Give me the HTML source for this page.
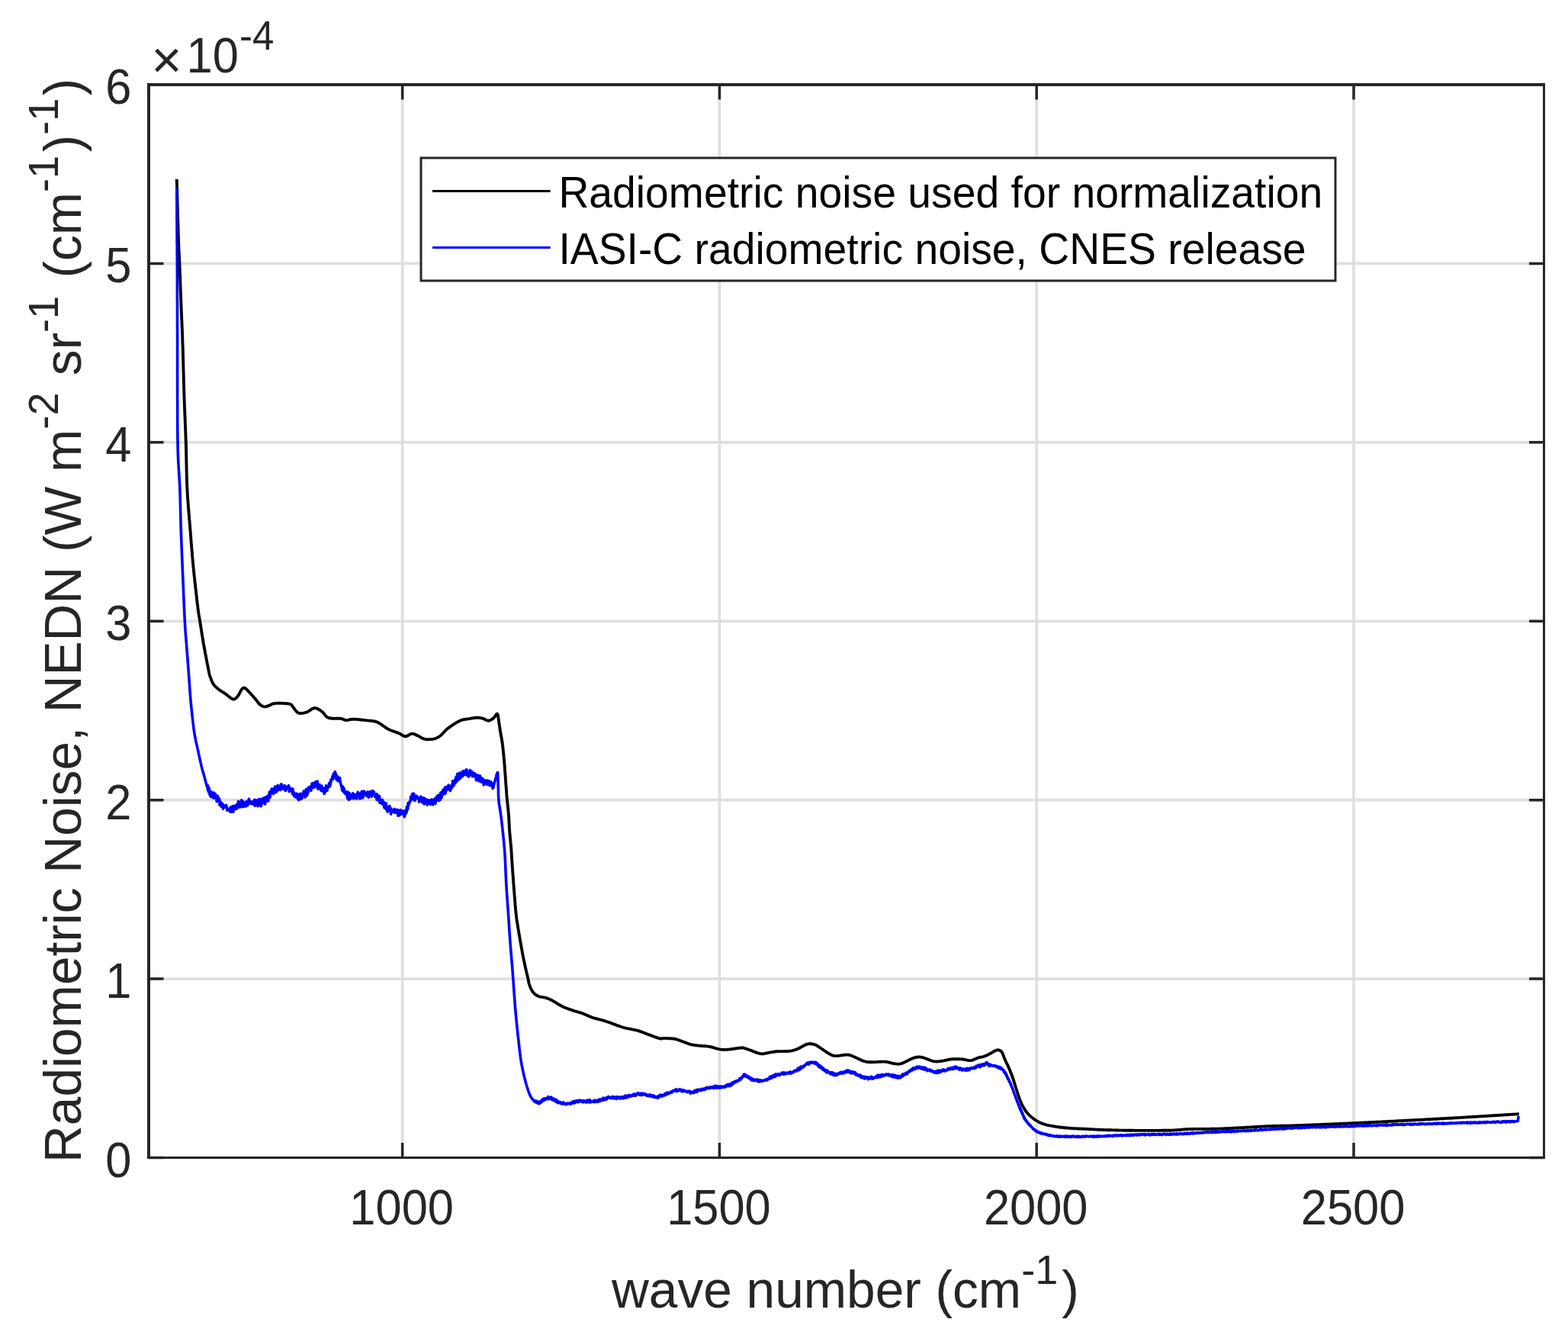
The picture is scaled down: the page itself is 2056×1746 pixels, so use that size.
<!DOCTYPE html><html><head><meta charset="utf-8"><title>Radiometric noise</title><style>html,body{margin:0;padding:0;background:#fff;overflow:hidden;width:2056px;height:1746px;}svg{display:block;}</style></head><body>
<svg width="2056" height="1746" viewBox="0 0 2056 1746" font-family="'Liberation Sans', Arial, Helvetica, sans-serif">
<rect x="0" y="0" width="2056" height="1746" fill="#fff"/>
<path d="M527.64 111.00V1517.50M943.43 111.00V1517.50M1359.23 111.00V1517.50M1775.02 111.00V1517.50M195.00 1283.08H2024.50M195.00 1048.67H2024.50M195.00 814.25H2024.50M195.00 579.83H2024.50M195.00 345.42H2024.50" stroke="#dfdfdf" stroke-width="3.7" fill="none"/>
<path d="M231.8 235.0L231.8 235.8L231.8 236.7L231.9 237.7L231.9 238.8L231.9 240.0L232.0 241.2L232.0 242.5L232.0 243.9L232.1 245.3L232.1 246.9L232.2 248.4L232.2 250.0L232.2 251.6L232.3 253.3L232.3 255.0L232.4 256.7L232.4 258.5L232.5 260.2L232.5 262.0L232.6 263.7L232.6 265.4L232.6 267.2L232.7 268.9L232.7 270.6L232.8 272.3L232.8 273.9L232.9 275.5L232.9 277.1L233.0 278.6L233.0 280.0L233.0 281.6L233.1 283.3L233.1 284.9L233.2 286.6L233.2 288.2L233.3 289.9L233.3 291.5L233.4 293.2L233.4 294.8L233.5 296.4L233.5 298.0L233.6 299.7L233.6 301.2L233.6 302.8L233.7 304.4L233.7 305.9L233.8 307.5L233.8 309.0L233.9 310.4L233.9 311.9L234.0 313.3L234.0 314.7L234.1 316.1L234.1 317.4L234.2 318.7L234.2 320.0L234.3 321.9L234.3 323.6L234.4 325.2L234.5 326.6L234.5 327.9L234.6 329.2L234.7 330.4L234.7 331.6L234.8 332.8L234.9 334.1L235.0 335.5L235.0 337.0L235.1 338.7L235.2 340.5L235.3 342.6L235.4 345.0L235.4 346.1L235.5 347.3L235.5 348.5L235.6 349.8L235.6 351.1L235.7 352.5L235.8 353.9L235.8 355.3L235.9 356.8L235.9 358.2L236.0 359.8L236.0 361.3L236.1 362.9L236.2 364.4L236.2 366.0L236.3 367.7L236.3 369.3L236.4 370.9L236.5 372.6L236.5 374.3L236.6 375.9L236.6 377.6L236.7 379.3L236.8 380.9L236.8 382.6L236.9 384.2L237.0 385.9L237.0 387.5L237.1 389.2L237.1 390.8L237.2 392.4L237.3 393.9L237.3 395.5L237.4 397.0L237.4 398.5L237.5 400.0L237.6 401.6L237.6 403.1L237.7 404.7L237.7 406.2L237.8 407.7L237.9 409.1L237.9 410.6L238.0 412.0L238.1 413.5L238.1 414.9L238.2 416.3L238.2 417.7L238.3 419.1L238.4 420.5L238.4 421.9L238.5 423.4L238.5 424.8L238.6 426.2L238.7 427.6L238.7 429.1L238.8 430.6L238.8 432.0L238.9 433.5L239.0 435.1L239.0 436.6L239.1 438.2L239.1 439.8L239.2 441.4L239.3 443.0L239.3 444.7L239.4 446.4L239.4 448.2L239.5 450.0L239.5 451.3L239.6 452.7L239.6 454.0L239.7 455.4L239.7 456.8L239.8 458.2L239.8 459.7L239.8 461.1L239.9 462.6L239.9 464.1L240.0 465.6L240.0 467.1L240.1 468.6L240.1 470.2L240.1 471.7L240.2 473.3L240.2 474.8L240.3 476.4L240.3 478.0L240.4 479.6L240.4 481.2L240.4 482.8L240.5 484.4L240.5 486.0L240.6 487.6L240.6 489.2L240.7 490.8L240.7 492.4L240.7 494.0L240.8 495.6L240.8 497.2L240.9 498.8L240.9 500.4L241.0 501.9L241.0 503.5L241.0 505.1L241.1 506.6L241.1 508.2L241.2 509.7L241.2 511.2L241.3 512.7L241.3 514.2L241.4 515.7L241.4 517.1L241.5 518.6L241.5 520.0L241.6 521.6L241.6 523.2L241.7 524.8L241.7 526.4L241.8 528.0L241.8 529.5L241.9 531.1L242.0 532.6L242.0 534.2L242.1 535.7L242.1 537.2L242.2 538.7L242.3 540.2L242.3 541.7L242.4 543.2L242.4 544.7L242.5 546.2L242.6 547.7L242.6 549.2L242.7 550.6L242.7 552.1L242.8 553.6L242.9 555.0L242.9 556.5L243.0 557.9L243.0 559.4L243.1 560.9L243.2 562.3L243.2 563.8L243.3 565.2L243.3 566.7L243.4 568.2L243.4 569.6L243.5 571.1L243.5 572.6L243.6 574.0L243.6 575.5L243.7 577.0L243.8 578.5L243.8 580.0L243.8 581.5L243.9 583.0L243.9 584.5L244.0 586.0L244.0 587.6L244.1 589.1L244.1 590.6L244.1 592.1L244.2 593.7L244.2 595.2L244.2 596.7L244.3 598.3L244.3 599.8L244.3 601.3L244.4 602.9L244.4 604.4L244.4 605.9L244.4 607.5L244.5 609.0L244.5 610.5L244.5 612.1L244.6 613.6L244.6 615.1L244.6 616.6L244.7 618.1L244.7 619.6L244.7 621.1L244.8 622.6L244.8 624.1L244.9 625.6L244.9 627.1L245.0 628.5L245.0 630.0L245.0 631.5L245.1 632.9L245.2 634.3L245.2 635.8L245.3 637.2L245.3 638.6L245.4 640.0L245.5 641.6L245.6 643.3L245.7 644.9L245.7 646.4L245.8 648.0L245.9 649.6L246.0 651.2L246.1 652.7L246.2 654.2L246.3 655.8L246.4 657.3L246.6 658.8L246.7 660.3L246.8 661.8L246.9 663.3L247.0 664.8L247.1 666.3L247.2 667.8L247.4 669.2L247.5 670.7L247.6 672.2L247.7 673.7L247.9 675.1L248.0 676.6L248.1 678.1L248.2 679.6L248.3 681.0L248.5 682.5L248.6 684.0L248.7 685.5L248.8 687.0L249.0 688.5L249.1 690.0L249.2 691.5L249.3 693.0L249.4 694.5L249.6 696.0L249.7 697.6L249.8 699.1L249.9 700.6L250.0 702.1L250.1 703.6L250.3 705.1L250.4 706.6L250.5 708.2L250.6 709.7L250.7 711.2L250.9 712.7L251.0 714.2L251.1 715.7L251.2 717.2L251.4 718.8L251.5 720.3L251.6 721.8L251.7 723.3L251.9 724.8L252.0 726.3L252.1 727.8L252.2 729.4L252.4 730.9L252.5 732.4L252.7 733.9L252.8 735.4L252.9 736.9L253.1 738.5L253.2 740.0L253.4 741.5L253.5 743.0L253.6 744.5L253.8 746.1L254.0 747.7L254.1 749.3L254.3 750.9L254.5 752.5L254.6 754.2L254.8 755.8L255.0 757.5L255.2 759.2L255.3 760.8L255.5 762.5L255.7 764.2L255.9 765.9L256.1 767.5L256.3 769.2L256.4 770.8L256.6 772.4L256.8 774.1L257.0 775.6L257.2 777.2L257.3 778.8L257.5 780.3L257.7 781.8L257.9 783.2L258.0 784.7L258.2 786.1L258.3 787.4L258.5 788.7L258.6 790.0L258.8 791.2L258.9 792.4L259.1 793.5L259.2 794.6L259.5 797.1L259.8 799.2L260.0 801.0L260.2 802.5L260.4 803.8L260.6 804.9L260.8 806.0L260.9 807.0L261.1 808.1L261.3 809.2L261.6 810.5L261.8 812.1L262.1 813.9L262.3 815.2L262.5 816.5L262.7 817.8L262.9 819.2L263.2 820.6L263.4 822.1L263.6 823.6L263.9 825.1L264.1 826.7L264.3 828.2L264.6 829.8L264.9 831.4L265.1 833.1L265.4 834.7L265.7 836.3L265.9 837.9L266.2 839.6L266.5 841.2L266.7 842.8L267.0 844.4L267.3 846.0L267.6 847.5L267.8 849.0L268.1 850.5L268.4 852.1L268.7 853.8L269.0 855.4L269.3 857.1L269.7 858.8L270.0 860.4L270.3 862.1L270.6 863.8L270.9 865.4L271.2 867.0L271.5 868.6L271.8 870.1L272.1 871.6L272.4 873.0L272.7 874.4L272.9 875.7L273.2 876.9L273.4 878.0L273.6 879.1L273.8 880.0L274.5 883.6L274.8 884.9L275.0 885.6L275.5 886.9L276.0 888.2L276.5 889.7L277.1 891.2L277.7 892.8L278.5 894.4L279.2 895.9L280.1 897.2L281.1 898.4L282.1 899.6L283.3 900.7L284.5 901.7L285.7 902.7L286.9 903.7L288.1 904.6L289.4 905.6L290.7 906.4L292.0 907.2L293.3 908.0L294.7 908.9L296.1 909.8L297.4 910.8L298.8 912.0L300.3 913.2L301.8 914.4L303.2 915.4L304.6 916.2L305.8 916.6L307.3 916.5L308.6 915.8L309.9 914.7L311.0 913.4L312.1 912.1L313.0 910.9L313.8 909.4L314.5 907.9L315.3 906.4L316.0 905.1L316.7 904.0L318.0 902.5L319.2 901.7L320.7 901.8L321.8 902.4L323.0 903.3L324.2 904.6L325.6 906.0L327.0 907.5L327.9 908.5L329.0 909.6L330.0 910.8L331.1 912.0L332.2 913.2L333.2 914.4L334.2 915.5L335.1 916.6L336.4 918.2L337.5 919.7L338.6 921.1L339.7 922.4L340.8 923.5L342.3 924.6L343.8 925.5L345.4 926.1L347.1 926.4L348.6 926.3L350.2 925.8L351.8 925.2L353.3 924.6L354.5 924.1L356.2 923.1L358.0 922.4L359.2 922.2L360.6 922.0L362.1 921.9L363.9 921.8L366.0 921.8L367.4 921.8L369.0 921.9L370.7 921.9L372.5 922.0L374.3 922.1L376.1 922.2L377.7 922.4L379.1 922.6L380.3 922.9L382.3 923.9L383.2 925.3L384.3 927.0L385.3 928.3L386.5 929.8L387.7 931.4L388.9 932.8L390.0 933.8L391.5 934.7L392.9 935.0L394.6 935.0L396.0 934.9L397.5 934.7L399.1 934.4L400.8 933.9L402.6 933.3L403.9 932.7L405.3 931.8L406.7 930.8L408.1 929.8L409.6 929.0L411.0 928.4L412.4 928.1L413.8 928.2L415.3 928.6L416.7 929.2L418.1 930.0L419.5 930.9L420.9 931.8L422.1 932.7L423.4 933.8L424.6 935.2L425.7 936.6L426.7 938.0L427.8 939.2L429.0 940.1L430.5 940.8L432.1 941.3L433.7 941.5L435.3 941.7L437.0 941.8L438.5 941.9L440.0 941.8L441.5 941.8L443.1 941.7L444.6 941.7L446.1 941.8L447.8 942.2L449.5 942.7L451.2 943.3L452.7 943.8L454.2 944.1L456.3 943.9L458.0 943.4L460.0 943.0L461.6 942.9L463.2 942.8L465.1 942.8L467.2 942.9L468.6 943.0L470.1 943.1L471.7 943.3L473.3 943.5L475.0 943.7L476.8 943.9L478.6 944.1L480.1 944.3L481.6 944.4L483.3 944.6L485.0 944.7L486.6 944.9L488.2 945.1L489.8 945.3L491.2 945.5L492.4 945.8L494.2 946.3L495.5 946.9L496.6 947.5L497.7 948.3L499.2 949.2L500.3 949.9L501.5 950.7L502.7 951.6L504.0 952.5L505.3 953.5L506.7 954.4L508.1 955.3L509.6 956.1L511.0 956.8L512.5 957.4L514.1 958.0L515.8 958.6L517.4 959.2L519.0 959.7L520.6 960.3L522.0 960.8L523.3 961.3L525.3 962.3L526.9 963.3L528.3 964.3L529.8 965.0L531.3 965.3L532.7 965.1L534.2 964.5L535.6 963.7L537.1 962.8L538.5 962.1L539.9 961.8L541.4 961.9L542.9 962.2L544.3 962.7L545.7 963.4L547.3 964.1L548.7 964.8L550.1 965.6L551.6 966.5L553.2 967.4L554.8 968.2L556.5 968.7L558.0 969.0L559.7 969.2L561.4 969.2L563.1 969.2L564.8 969.1L566.5 969.0L568.0 968.7L569.7 968.3L571.3 967.8L572.8 967.2L574.2 966.5L575.7 965.6L577.1 964.7L578.3 963.8L579.4 962.7L580.5 961.5L581.6 960.3L582.8 959.0L583.9 957.8L585.1 956.7L586.3 955.6L587.6 954.6L588.9 953.6L590.2 952.6L591.6 951.7L592.9 950.7L594.3 949.8L595.7 948.9L597.2 948.0L598.7 947.1L600.2 946.2L601.7 945.4L603.2 944.7L604.6 944.1L606.2 943.6L607.7 943.2L609.1 943.0L610.6 942.8L612.2 942.6L613.8 942.4L615.3 942.1L617.0 941.8L618.7 941.5L620.4 941.2L622.1 941.0L623.7 940.8L625.2 940.7L627.0 940.7L628.7 940.9L630.2 941.1L631.7 941.4L633.2 941.8L635.0 942.5L636.7 943.5L638.4 944.4L640.1 944.7L641.5 944.5L642.9 944.0L644.3 943.3L645.7 942.4L646.9 941.5L648.1 940.3L649.2 938.6L650.3 937.1L651.2 935.9L652.0 935.7L652.5 936.3L652.9 937.5L653.2 939.1L653.4 941.0L653.7 943.0L654.0 945.0L654.2 946.3L654.4 947.7L654.6 949.1L654.8 950.6L655.0 952.1L655.3 953.6L655.5 955.3L655.7 956.9L656.0 958.6L656.2 960.0L656.5 961.4L656.7 962.9L657.0 964.3L657.3 965.9L657.6 967.4L657.9 969.0L658.1 970.6L658.4 972.3L658.7 974.0L658.9 975.8L659.1 977.2L659.2 978.6L659.4 980.0L659.6 981.5L659.7 983.0L659.9 984.5L660.0 986.1L660.2 987.7L660.4 989.3L660.5 990.9L660.6 992.4L660.8 994.0L660.9 995.6L661.1 997.2L661.2 998.7L661.3 1000.2L661.5 1001.8L661.6 1003.3L661.7 1004.8L661.8 1006.3L661.9 1007.9L662.0 1009.4L662.1 1010.9L662.2 1012.4L662.4 1014.0L662.5 1015.5L662.6 1017.0L662.7 1018.5L662.8 1020.1L662.9 1021.6L663.0 1023.1L663.1 1024.7L663.2 1026.2L663.3 1027.7L663.4 1029.2L663.6 1030.8L663.7 1032.3L663.8 1033.8L663.9 1035.3L664.0 1036.9L664.1 1038.4L664.2 1039.9L664.3 1041.4L664.5 1043.0L664.6 1044.5L664.7 1046.0L664.9 1047.6L665.0 1049.1L665.2 1050.6L665.4 1052.1L665.5 1053.7L665.7 1055.2L665.9 1056.7L666.0 1058.3L666.2 1059.8L666.3 1061.3L666.5 1062.8L666.6 1064.4L666.8 1065.9L666.9 1067.4L667.0 1068.9L667.1 1070.4L667.2 1071.9L667.3 1073.4L667.4 1074.9L667.5 1076.4L667.5 1077.9L667.6 1079.4L667.7 1080.9L667.7 1082.4L667.8 1084.0L667.9 1085.5L668.0 1087.0L668.1 1088.5L668.2 1090.0L668.3 1091.5L668.4 1093.1L668.6 1094.7L668.7 1096.3L668.9 1097.9L669.0 1099.6L669.2 1101.2L669.4 1102.8L669.5 1104.4L669.7 1105.9L669.8 1107.4L669.9 1108.9L670.1 1110.3L670.2 1111.7L670.3 1113.0L670.4 1114.7L670.5 1116.2L670.6 1117.5L670.7 1118.7L670.7 1119.8L670.8 1121.0L670.9 1122.3L670.9 1123.9L671.1 1125.8L671.2 1128.0L671.3 1129.2L671.4 1130.4L671.5 1131.7L671.6 1133.0L671.6 1134.4L671.8 1135.9L671.9 1137.4L672.0 1138.9L672.1 1140.5L672.2 1142.1L672.3 1143.7L672.4 1145.4L672.6 1147.1L672.7 1148.7L672.8 1150.4L672.9 1152.1L673.1 1153.8L673.2 1155.5L673.3 1157.2L673.4 1158.9L673.6 1160.5L673.7 1162.1L673.8 1163.6L673.9 1165.1L674.0 1166.6L674.2 1168.1L674.3 1169.7L674.4 1171.3L674.5 1172.8L674.6 1174.4L674.8 1176.0L674.9 1177.6L675.0 1179.2L675.1 1180.8L675.3 1182.3L675.4 1183.9L675.5 1185.5L675.6 1187.0L675.8 1188.5L675.9 1190.0L676.0 1191.4L676.2 1192.9L676.3 1194.2L676.4 1195.6L676.6 1196.9L676.7 1198.2L676.9 1200.0L677.1 1201.8L677.3 1203.5L677.5 1205.1L677.8 1206.6L678.0 1208.1L678.2 1209.6L678.4 1211.0L678.7 1212.4L678.9 1213.8L679.1 1215.2L679.3 1216.6L679.6 1218.0L679.8 1219.4L680.1 1220.8L680.3 1222.3L680.5 1223.8L680.8 1225.3L681.1 1226.9L681.3 1228.4L681.6 1230.0L681.9 1231.6L682.1 1233.1L682.4 1234.7L682.7 1236.2L682.9 1237.7L683.2 1239.2L683.5 1240.7L683.7 1242.2L684.0 1243.6L684.3 1245.0L684.5 1246.3L684.8 1248.0L685.1 1249.7L685.4 1251.3L685.7 1252.8L686.0 1254.3L686.3 1255.8L686.6 1257.3L686.9 1258.7L687.2 1260.1L687.5 1261.5L687.8 1262.9L688.1 1264.3L688.5 1266.0L688.8 1267.7L689.2 1269.3L689.6 1270.9L690.0 1272.6L690.3 1274.1L690.7 1275.7L691.0 1277.2L691.4 1278.6L691.7 1280.0L692.1 1281.9L692.5 1283.7L692.8 1285.3L693.2 1287.0L693.5 1288.5L693.9 1290.0L694.4 1291.5L695.0 1293.2L695.7 1294.9L696.4 1296.4L697.2 1297.9L698.0 1299.3L698.9 1300.6L700.1 1301.9L701.3 1303.1L702.7 1304.1L704.2 1305.0L705.8 1305.8L707.1 1306.3L708.6 1306.6L710.1 1306.9L711.7 1307.2L713.2 1307.4L714.7 1307.7L716.1 1308.1L717.8 1308.6L719.2 1309.2L720.6 1309.8L722.2 1310.5L724.1 1311.5L725.2 1312.1L726.5 1312.9L727.8 1313.7L729.2 1314.5L730.6 1315.4L732.1 1316.3L733.6 1317.2L735.1 1318.0L736.5 1318.8L737.9 1319.5L739.4 1320.2L741.0 1320.9L742.6 1321.5L744.1 1322.1L745.7 1322.7L747.2 1323.2L748.7 1323.7L750.2 1324.2L751.6 1324.7L753.3 1325.3L755.0 1325.7L756.6 1326.2L758.1 1326.6L759.7 1327.0L761.4 1327.5L763.1 1328.1L764.5 1328.6L766.0 1329.2L767.5 1329.9L769.0 1330.6L770.5 1331.3L772.1 1331.9L773.6 1332.6L775.2 1333.2L776.8 1333.8L778.3 1334.3L779.8 1334.7L781.3 1335.1L782.8 1335.5L784.4 1335.9L785.9 1336.3L787.4 1336.7L788.9 1337.0L790.3 1337.4L791.7 1337.8L793.3 1338.3L794.7 1338.8L796.1 1339.2L797.4 1339.7L798.7 1340.2L800.1 1340.7L801.5 1341.2L803.1 1341.8L804.4 1342.3L805.8 1342.8L807.2 1343.3L808.6 1343.9L810.1 1344.4L811.6 1344.9L813.2 1345.5L814.7 1346.0L816.4 1346.5L818.0 1347.0L819.4 1347.4L820.9 1347.7L822.5 1348.1L824.1 1348.4L825.7 1348.7L827.3 1349.0L829.0 1349.4L830.6 1349.7L832.1 1350.0L833.6 1350.3L835.1 1350.6L836.4 1351.0L838.2 1351.5L839.9 1352.1L841.4 1352.6L842.8 1353.2L844.3 1353.8L845.7 1354.4L847.3 1355.0L849.0 1355.6L850.4 1356.1L851.9 1356.7L853.4 1357.2L855.0 1357.8L856.7 1358.5L858.3 1359.1L859.8 1359.6L861.3 1360.2L862.7 1360.6L863.9 1361.0L865.0 1361.3L867.2 1361.6L868.1 1361.2L870.0 1360.9L871.2 1360.9L872.6 1361.0L874.2 1361.0L875.9 1361.1L877.7 1361.2L879.4 1361.3L881.1 1361.4L882.6 1361.5L883.9 1361.7L885.7 1362.0L887.0 1362.3L888.2 1362.7L889.5 1363.2L891.4 1363.9L892.6 1364.3L894.0 1364.8L895.4 1365.4L897.0 1366.0L898.6 1366.6L900.3 1367.2L901.9 1367.8L903.5 1368.3L905.0 1368.8L906.4 1369.2L908.3 1369.6L910.0 1369.9L911.7 1370.2L913.3 1370.3L914.9 1370.5L916.5 1370.6L918.2 1370.8L919.8 1371.0L921.5 1371.1L923.0 1371.2L924.7 1371.3L926.3 1371.4L928.1 1371.6L929.9 1371.9L931.3 1372.2L932.8 1372.5L934.3 1372.9L935.9 1373.4L937.5 1373.8L939.1 1374.3L940.6 1374.7L942.1 1375.1L943.6 1375.4L944.9 1375.6L946.6 1375.8L948.1 1375.9L949.5 1376.0L950.9 1375.9L952.3 1375.9L953.8 1375.7L955.6 1375.6L957.0 1375.5L958.6 1375.3L960.3 1375.0L962.1 1374.8L963.9 1374.5L965.7 1374.2L967.4 1374.0L969.0 1373.7L970.5 1373.6L971.7 1373.5L973.7 1373.4L974.8 1373.5L975.9 1373.9L978.1 1374.6L979.2 1375.0L980.6 1375.4L982.0 1376.0L983.7 1376.6L985.3 1377.2L987.1 1377.9L988.8 1378.6L990.5 1379.2L992.2 1379.8L993.7 1380.3L995.1 1380.7L996.3 1381.0L998.6 1381.4L1000.2 1381.4L1001.5 1381.2L1003.0 1380.8L1004.8 1380.5L1006.2 1380.3L1007.6 1380.0L1009.1 1379.7L1010.7 1379.4L1012.4 1379.1L1014.1 1378.8L1015.9 1378.5L1017.7 1378.3L1019.1 1378.2L1020.6 1378.1L1022.2 1378.1L1023.9 1378.1L1025.5 1378.1L1027.2 1378.1L1028.9 1378.1L1030.5 1378.0L1032.0 1378.0L1033.5 1377.9L1034.8 1377.8L1036.6 1377.6L1038.3 1377.3L1039.7 1377.0L1041.1 1376.6L1042.5 1376.2L1043.9 1375.7L1045.5 1375.1L1046.8 1374.5L1048.3 1373.8L1049.7 1373.0L1051.2 1372.1L1052.7 1371.3L1054.2 1370.5L1055.6 1369.7L1057.0 1369.1L1058.3 1368.7L1060.1 1368.3L1061.8 1368.2L1063.5 1368.3L1065.0 1368.5L1066.5 1368.8L1068.0 1369.2L1069.7 1369.8L1071.3 1370.7L1072.8 1371.7L1074.2 1372.6L1075.5 1373.5L1077.0 1374.5L1078.2 1375.4L1080.0 1376.7L1081.1 1377.4L1082.3 1378.2L1083.7 1379.1L1085.2 1380.0L1086.6 1381.0L1088.1 1381.8L1089.5 1382.5L1090.7 1383.1L1092.3 1383.7L1093.7 1384.0L1095.0 1384.1L1096.5 1384.1L1098.2 1384.0L1099.7 1383.9L1101.4 1383.7L1103.2 1383.4L1105.0 1383.1L1106.8 1382.8L1108.5 1382.7L1110.0 1382.6L1111.6 1382.6L1112.9 1382.8L1114.1 1383.0L1115.5 1383.5L1117.5 1384.2L1118.7 1384.7L1120.0 1385.2L1121.4 1385.9L1122.9 1386.6L1124.5 1387.4L1126.1 1388.1L1127.7 1388.9L1129.3 1389.6L1130.8 1390.2L1132.2 1390.8L1133.5 1391.2L1135.3 1391.7L1136.8 1392.0L1138.2 1392.1L1139.5 1392.2L1140.9 1392.2L1142.4 1392.2L1144.2 1392.2L1145.6 1392.2L1147.1 1392.1L1148.7 1392.1L1150.4 1392.0L1152.1 1391.8L1153.8 1391.7L1155.5 1391.7L1157.1 1391.6L1158.8 1391.6L1160.3 1391.7L1162.0 1391.9L1163.6 1392.1L1165.3 1392.5L1166.9 1392.9L1168.5 1393.3L1170.0 1393.6L1171.5 1394.0L1172.9 1394.2L1174.2 1394.4L1176.1 1394.6L1177.7 1394.7L1179.1 1394.7L1180.7 1394.4L1182.7 1393.8L1183.8 1393.4L1185.1 1392.9L1186.4 1392.2L1187.9 1391.5L1189.3 1390.8L1190.8 1390.0L1192.3 1389.2L1193.7 1388.5L1195.1 1387.9L1196.5 1387.3L1197.7 1386.9L1199.4 1386.4L1200.9 1386.0L1202.3 1385.7L1203.7 1385.5L1205.1 1385.5L1206.6 1385.6L1208.4 1385.8L1209.7 1386.1L1211.1 1386.5L1212.5 1387.0L1214.0 1387.5L1215.6 1388.2L1217.2 1388.8L1218.7 1389.4L1220.3 1390.0L1221.8 1390.5L1223.2 1390.9L1224.5 1391.2L1226.4 1391.4L1228.2 1391.5L1229.9 1391.4L1231.5 1391.3L1233.1 1391.1L1234.6 1390.8L1236.2 1390.6L1237.7 1390.4L1239.2 1390.0L1240.6 1389.7L1242.1 1389.3L1243.6 1389.0L1245.2 1388.7L1246.9 1388.5L1248.2 1388.4L1249.7 1388.3L1251.2 1388.3L1252.8 1388.3L1254.4 1388.3L1256.0 1388.3L1257.6 1388.3L1259.1 1388.4L1260.6 1388.4L1261.9 1388.5L1263.7 1388.7L1265.3 1389.0L1266.8 1389.4L1268.2 1389.7L1269.7 1390.0L1271.1 1390.1L1272.6 1390.1L1274.2 1389.8L1275.8 1389.3L1277.4 1388.7L1279.0 1388.0L1280.5 1387.4L1282.0 1386.8L1283.3 1386.3L1285.2 1385.8L1286.8 1385.6L1288.3 1385.3L1290.0 1384.9L1291.5 1384.3L1293.1 1383.7L1294.7 1382.9L1296.4 1382.1L1298.0 1381.3L1299.4 1380.5L1300.8 1379.7L1302.2 1378.8L1303.6 1378.0L1304.9 1377.3L1306.0 1376.8L1307.9 1376.3L1309.4 1376.4L1310.8 1376.8L1312.0 1377.4L1313.0 1378.3L1314.1 1380.0L1314.7 1381.2L1315.3 1382.7L1316.0 1384.3L1316.6 1386.1L1317.3 1387.9L1318.1 1389.7L1318.7 1391.1L1319.4 1392.5L1320.1 1394.0L1320.8 1395.5L1321.6 1397.0L1322.3 1398.6L1323.0 1400.1L1323.7 1401.7L1324.3 1403.1L1324.8 1404.5L1325.4 1405.9L1325.9 1407.3L1326.5 1408.8L1327.0 1410.2L1327.5 1411.6L1328.0 1413.1L1328.5 1414.5L1329.0 1415.9L1329.4 1417.4L1329.9 1418.8L1330.3 1420.3L1330.8 1421.7L1331.2 1423.2L1331.6 1424.6L1332.1 1426.0L1332.5 1427.4L1333.0 1429.0L1333.5 1430.5L1334.0 1432.1L1334.5 1433.6L1335.0 1435.1L1335.5 1436.6L1336.0 1438.0L1336.5 1439.4L1337.1 1441.1L1337.8 1442.8L1338.4 1444.4L1339.0 1445.9L1339.7 1447.5L1340.5 1449.0L1341.3 1450.5L1342.2 1452.1L1343.2 1453.6L1344.1 1455.1L1345.1 1456.5L1346.1 1457.8L1347.1 1459.0L1348.1 1460.2L1349.1 1461.2L1350.2 1462.3L1351.3 1463.3L1352.5 1464.3L1353.7 1465.3L1355.0 1466.3L1356.3 1467.3L1357.7 1468.2L1359.1 1469.1L1360.6 1469.9L1362.0 1470.7L1363.5 1471.4L1364.9 1472.1L1366.5 1472.7L1368.2 1473.3L1370.2 1473.9L1371.5 1474.3L1372.9 1474.6L1374.4 1475.0L1375.9 1475.3L1377.5 1475.6L1379.2 1475.9L1380.9 1476.3L1382.6 1476.5L1384.4 1476.8L1386.2 1477.1L1387.6 1477.3L1389.1 1477.5L1390.7 1477.7L1392.3 1477.8L1393.9 1478.0L1395.6 1478.2L1397.2 1478.3L1398.8 1478.5L1400.5 1478.6L1402.0 1478.8L1403.5 1478.9L1405.0 1479.0L1406.3 1479.1L1408.0 1479.2L1409.5 1479.3L1410.8 1479.4L1412.0 1479.4L1413.2 1479.5L1414.5 1479.5L1416.0 1479.5L1417.8 1479.6L1420.0 1479.7L1421.2 1479.8L1422.3 1479.8L1423.6 1479.9L1424.9 1480.0L1426.2 1480.0L1427.6 1480.1L1429.0 1480.2L1430.5 1480.3L1432.0 1480.3L1433.5 1480.4L1435.1 1480.5L1436.7 1480.6L1438.4 1480.7L1440.1 1480.8L1441.8 1480.8L1443.6 1480.9L1445.4 1481.0L1447.3 1481.0L1449.2 1481.1L1450.5 1481.1L1451.8 1481.2L1453.1 1481.2L1454.5 1481.3L1455.9 1481.3L1457.3 1481.3L1458.8 1481.4L1460.2 1481.4L1461.7 1481.4L1463.2 1481.5L1464.8 1481.5L1466.3 1481.5L1467.8 1481.6L1469.4 1481.6L1471.0 1481.6L1472.6 1481.6L1474.2 1481.7L1475.7 1481.7L1477.3 1481.7L1478.9 1481.8L1480.5 1481.8L1482.1 1481.8L1483.7 1481.8L1485.3 1481.8L1486.8 1481.9L1488.4 1481.9L1489.9 1481.9L1491.5 1481.9L1493.0 1481.9L1494.5 1481.9L1496.1 1481.9L1497.6 1481.9L1499.2 1481.9L1500.8 1481.9L1502.4 1481.9L1504.0 1481.9L1505.7 1481.9L1507.3 1481.9L1508.9 1481.9L1510.6 1481.9L1512.2 1481.9L1513.8 1481.9L1515.4 1481.9L1517.0 1481.9L1518.6 1481.9L1520.2 1481.9L1521.7 1481.9L1523.2 1481.8L1524.8 1481.8L1526.2 1481.8L1527.7 1481.8L1529.1 1481.8L1530.5 1481.7L1531.8 1481.7L1533.1 1481.7L1534.3 1481.7L1535.5 1481.6L1536.7 1481.6L1538.9 1481.5L1540.8 1481.4L1542.6 1481.3L1544.1 1481.2L1545.5 1481.1L1546.8 1481.0L1548.1 1480.9L1549.3 1480.7L1550.6 1480.6L1551.9 1480.5L1553.3 1480.4L1554.9 1480.3L1556.6 1480.2L1558.6 1480.1L1559.8 1480.1L1561.1 1480.0L1562.5 1480.0L1563.9 1480.0L1565.3 1480.0L1566.8 1479.9L1568.3 1479.9L1569.8 1479.9L1571.4 1479.9L1573.0 1479.9L1574.6 1479.9L1576.2 1479.9L1577.8 1479.9L1579.5 1479.9L1581.1 1479.9L1582.7 1479.9L1584.3 1479.9L1585.9 1479.9L1587.5 1479.8L1589.1 1479.8L1590.6 1479.8L1592.2 1479.8L1593.7 1479.7L1595.1 1479.7L1596.7 1479.7L1598.3 1479.6L1599.9 1479.5L1601.4 1479.5L1602.9 1479.4L1604.4 1479.4L1605.9 1479.3L1607.4 1479.2L1608.9 1479.2L1610.3 1479.1L1611.8 1479.0L1613.3 1478.9L1614.7 1478.9L1616.2 1478.8L1617.7 1478.7L1619.3 1478.6L1620.8 1478.5L1622.3 1478.5L1623.9 1478.4L1625.6 1478.3L1627.2 1478.2L1628.6 1478.1L1630.0 1478.1L1631.5 1478.0L1633.0 1477.9L1634.5 1477.8L1636.0 1477.7L1637.5 1477.6L1639.0 1477.6L1640.5 1477.5L1642.1 1477.4L1643.6 1477.3L1645.2 1477.2L1646.8 1477.1L1648.3 1477.0L1649.9 1476.9L1651.4 1476.9L1653.0 1476.8L1654.5 1476.7L1656.1 1476.6L1657.6 1476.5L1659.1 1476.5L1660.7 1476.4L1662.2 1476.3L1663.6 1476.3L1665.1 1476.2L1666.6 1476.1L1668.1 1476.1L1669.5 1476.0L1670.9 1476.0L1672.2 1476.0L1673.5 1475.9L1674.7 1475.9L1676.0 1475.9L1677.2 1475.9L1678.4 1475.8L1679.7 1475.8L1681.0 1475.8L1682.3 1475.8L1683.7 1475.8L1685.2 1475.7L1686.7 1475.7L1688.3 1475.7L1689.9 1475.6L1691.7 1475.6L1693.6 1475.5L1695.6 1475.5L1697.7 1475.4L1700.0 1475.3L1701.1 1475.3L1702.3 1475.2L1703.5 1475.2L1704.7 1475.1L1706.0 1475.1L1707.3 1475.0L1708.6 1475.0L1710.0 1474.9L1711.3 1474.9L1712.7 1474.8L1714.1 1474.8L1715.6 1474.7L1717.0 1474.7L1718.5 1474.6L1720.0 1474.5L1721.5 1474.5L1723.0 1474.4L1724.6 1474.4L1726.1 1474.3L1727.7 1474.2L1729.3 1474.2L1730.9 1474.1L1732.5 1474.0L1734.1 1474.0L1735.7 1473.9L1737.4 1473.8L1739.0 1473.8L1740.7 1473.7L1742.3 1473.6L1744.0 1473.6L1745.6 1473.5L1747.3 1473.4L1748.9 1473.4L1750.6 1473.3L1752.2 1473.2L1753.9 1473.1L1755.5 1473.1L1757.1 1473.0L1758.8 1472.9L1760.4 1472.9L1762.0 1472.8L1763.6 1472.7L1765.2 1472.6L1766.8 1472.6L1768.4 1472.5L1769.9 1472.4L1771.5 1472.4L1773.0 1472.3L1774.5 1472.2L1776.0 1472.2L1777.6 1472.1L1779.1 1472.0L1780.6 1472.0L1782.1 1471.9L1783.6 1471.8L1785.2 1471.7L1786.7 1471.7L1788.2 1471.6L1789.7 1471.5L1791.2 1471.5L1792.7 1471.4L1794.3 1471.3L1795.8 1471.2L1797.3 1471.2L1798.8 1471.1L1800.3 1471.0L1801.9 1470.9L1803.4 1470.9L1804.9 1470.8L1806.4 1470.7L1807.9 1470.6L1809.5 1470.6L1811.0 1470.5L1812.5 1470.4L1814.0 1470.3L1815.5 1470.3L1817.0 1470.2L1818.6 1470.1L1820.1 1470.0L1821.6 1470.0L1823.1 1469.9L1824.6 1469.8L1826.2 1469.7L1827.7 1469.6L1829.2 1469.6L1830.7 1469.5L1832.2 1469.4L1833.7 1469.3L1835.3 1469.3L1836.8 1469.2L1838.3 1469.1L1839.8 1469.0L1841.3 1468.9L1842.9 1468.9L1844.4 1468.8L1845.9 1468.7L1847.4 1468.6L1848.9 1468.5L1850.5 1468.5L1852.0 1468.4L1853.5 1468.3L1855.0 1468.2L1856.5 1468.1L1858.1 1468.1L1859.6 1468.0L1861.1 1467.9L1862.6 1467.8L1864.1 1467.7L1865.7 1467.7L1867.2 1467.6L1868.7 1467.5L1870.2 1467.4L1871.8 1467.3L1873.3 1467.3L1874.8 1467.2L1876.3 1467.1L1877.8 1467.0L1879.4 1466.9L1880.9 1466.8L1882.4 1466.8L1883.9 1466.7L1885.4 1466.6L1887.0 1466.5L1888.5 1466.4L1890.0 1466.3L1891.5 1466.3L1893.0 1466.2L1894.6 1466.1L1896.1 1466.0L1897.6 1465.9L1899.1 1465.8L1900.7 1465.7L1902.2 1465.7L1903.7 1465.6L1905.2 1465.5L1906.7 1465.4L1908.3 1465.3L1909.8 1465.2L1911.3 1465.1L1912.8 1465.1L1914.3 1465.0L1915.9 1464.9L1917.4 1464.8L1918.9 1464.7L1920.4 1464.6L1922.0 1464.5L1923.6 1464.4L1925.2 1464.3L1926.9 1464.2L1928.5 1464.1L1930.2 1464.0L1931.9 1463.9L1933.6 1463.8L1935.3 1463.7L1937.1 1463.6L1938.8 1463.5L1940.6 1463.4L1942.4 1463.3L1944.1 1463.2L1945.9 1463.1L1947.7 1463.0L1949.4 1462.9L1951.2 1462.7L1953.0 1462.6L1954.7 1462.5L1956.5 1462.4L1958.2 1462.3L1959.9 1462.2L1961.6 1462.1L1963.3 1462.0L1965.0 1461.9L1966.6 1461.8L1968.2 1461.7L1969.8 1461.6L1971.4 1461.5L1972.9 1461.4L1974.4 1461.3L1975.9 1461.2L1977.3 1461.1L1978.7 1461.0L1980.1 1460.9L1981.4 1460.9L1982.6 1460.8L1983.9 1460.7L1985.0 1460.6L1986.2 1460.6L1987.3 1460.5L1988.3 1460.4L1989.2 1460.4L1990.2 1460.3L1991.0 1460.2L1991.8 1460.2" stroke="#000" stroke-width="3.9" fill="none" stroke-linejoin="round"/>
<path d="M231.8 246.6L231.8 246.9L231.8 247.1L231.8 247.4L231.8 247.7L231.8 248.0L231.8 248.3L231.8 248.6L231.8 248.9L231.8 249.3L231.8 249.6L231.8 250.0L231.8 250.3L231.8 250.7L231.8 251.1L231.8 251.4L231.8 251.8L231.8 252.2L231.8 252.6L231.8 253.1L231.8 253.5L231.8 253.9L231.8 254.3L231.8 254.8L231.8 255.2L231.8 255.7L231.8 256.2L231.8 256.6L231.8 257.1L231.8 257.6L231.8 258.1L231.8 258.6L231.8 259.1L231.8 259.6L231.8 260.1L231.8 260.6L231.8 261.1L231.9 261.6L231.9 262.2L231.9 262.7L231.9 263.2L231.9 263.8L231.9 264.3L231.9 264.8L231.9 265.4L231.9 266.0L231.9 266.5L231.9 267.1L231.9 267.6L231.9 268.2L231.9 268.8L231.9 269.3L231.9 269.9L231.9 270.5L231.9 271.1L231.9 271.6L231.9 272.2L231.9 272.8L231.9 273.4L231.9 274.0L231.9 274.6L231.9 275.2L231.9 275.7L231.9 276.3L231.9 276.9L231.9 277.5L231.9 278.1L231.9 278.7L231.9 279.3L231.9 279.9L231.9 280.5L231.9 281.0L231.9 281.6L231.9 282.2L231.9 282.8L231.9 283.4L231.9 284.0L231.9 284.5L231.9 285.1L231.9 285.7L231.9 286.3L231.9 286.8L231.9 287.4L231.9 288.0L231.9 288.6L232.0 289.1L232.0 289.7L232.0 290.2L232.0 290.8L232.0 291.3L232.0 291.9L232.0 292.4L232.0 293.0L232.0 293.5L232.0 294.0L232.0 294.6L232.0 295.1L232.0 295.6L232.0 296.1L232.0 296.6L232.0 297.1L232.0 297.6L232.0 298.1L232.0 298.6L232.0 299.1L232.0 299.5L232.0 300.0L232.0 300.5L232.0 301.1L232.0 301.6L232.0 302.1L232.0 302.6L232.0 303.1L232.0 303.6L232.0 304.1L232.0 304.6L232.0 305.0L232.0 305.5L232.0 306.0L232.0 306.4L232.0 306.9L232.0 307.3L232.0 307.7L232.1 308.2L232.1 308.6L232.1 309.0L232.1 309.4L232.1 309.8L232.1 310.2L232.1 310.6L232.1 311.0L232.1 311.4L232.1 311.8L232.1 312.2L232.1 312.6L232.1 313.0L232.1 313.4L232.1 313.8L232.1 314.2L232.1 314.6L232.1 315.0L232.1 315.3L232.1 315.7L232.1 316.1L232.1 316.5L232.1 316.9L232.1 317.3L232.1 317.7L232.1 318.1L232.1 318.5L232.1 318.9L232.1 319.3L232.1 319.7L232.2 320.1L232.2 320.5L232.2 320.9L232.2 321.3L232.2 321.8L232.2 322.2L232.2 322.6L232.2 323.1L232.2 323.5L232.2 324.0L232.2 324.4L232.2 324.9L232.2 325.4L232.2 325.9L232.2 326.4L232.2 326.9L232.2 327.4L232.2 327.9L232.2 328.4L232.2 328.9L232.2 329.5L232.2 330.0L232.2 330.6L232.2 331.1L232.2 331.7L232.2 332.3L232.2 332.9L232.2 333.5L232.2 334.1L232.3 334.8L232.3 335.4L232.3 336.1L232.3 336.7L232.3 337.4L232.3 338.1L232.3 338.8L232.3 339.5L232.3 340.3L232.3 341.0L232.3 341.8L232.3 342.6L232.3 343.4L232.3 344.2L232.3 345.0L232.3 345.4L232.3 345.7L232.3 346.1L232.3 346.4L232.3 346.8L232.3 347.2L232.3 347.6L232.3 347.9L232.3 348.3L232.3 348.7L232.3 349.1L232.3 349.4L232.3 349.8L232.3 350.2L232.3 350.6L232.3 351.0L232.3 351.4L232.3 351.8L232.3 352.2L232.3 352.6L232.3 353.0L232.3 353.4L232.3 353.8L232.3 354.2L232.3 354.6L232.3 355.0L232.3 355.4L232.3 355.8L232.3 356.2L232.3 356.6L232.3 357.1L232.3 357.5L232.3 357.9L232.3 358.3L232.3 358.7L232.4 359.2L232.4 359.6L232.4 360.0L232.4 360.5L232.4 360.9L232.4 361.3L232.4 361.8L232.4 362.2L232.4 362.6L232.4 363.1L232.4 363.5L232.4 364.0L232.4 364.4L232.4 364.9L232.4 365.3L232.4 365.8L232.4 366.2L232.4 366.7L232.4 367.1L232.4 367.6L232.4 368.0L232.4 368.5L232.4 369.0L232.4 369.4L232.4 369.9L232.4 370.4L232.4 370.8L232.4 371.3L232.4 371.8L232.4 372.2L232.4 372.7L232.4 373.2L232.4 373.7L232.4 374.2L232.4 374.6L232.4 375.1L232.4 375.6L232.4 376.1L232.4 376.6L232.4 377.0L232.4 377.5L232.4 378.0L232.4 378.5L232.4 379.0L232.4 379.5L232.4 380.0L232.4 380.5L232.4 381.0L232.4 381.5L232.4 382.0L232.4 382.5L232.4 383.0L232.4 383.5L232.4 384.0L232.4 384.5L232.4 385.0L232.4 385.5L232.4 386.0L232.4 386.5L232.4 387.0L232.4 387.5L232.4 388.1L232.4 388.6L232.4 389.1L232.4 389.6L232.4 390.1L232.4 390.6L232.4 391.1L232.4 391.7L232.4 392.2L232.4 392.7L232.4 393.2L232.4 393.8L232.4 394.3L232.5 394.8L232.5 395.3L232.5 395.9L232.5 396.4L232.5 396.9L232.5 397.4L232.5 398.0L232.5 398.5L232.5 399.0L232.5 399.6L232.5 400.1L232.5 400.6L232.5 401.2L232.5 401.7L232.5 402.2L232.5 402.8L232.5 403.3L232.5 403.9L232.5 404.4L232.5 404.9L232.5 405.5L232.5 406.0L232.5 406.6L232.5 407.1L232.5 407.7L232.5 408.2L232.5 408.7L232.5 409.3L232.5 409.8L232.5 410.4L232.5 410.9L232.5 411.5L232.5 412.0L232.5 412.6L232.5 413.1L232.5 413.7L232.5 414.2L232.5 414.8L232.5 415.3L232.5 415.9L232.5 416.4L232.5 417.0L232.5 417.5L232.5 418.1L232.5 418.6L232.5 419.2L232.5 419.8L232.5 420.3L232.5 420.9L232.5 421.4L232.5 422.0L232.5 422.5L232.5 423.1L232.5 423.6L232.5 424.2L232.5 424.8L232.5 425.3L232.5 425.9L232.5 426.4L232.5 427.0L232.5 427.6L232.5 428.1L232.5 428.7L232.5 429.2L232.5 429.8L232.5 430.4L232.5 430.9L232.5 431.5L232.5 432.0L232.6 432.6L232.6 433.2L232.6 433.7L232.6 434.3L232.6 434.8L232.6 435.4L232.6 436.0L232.6 436.5L232.6 437.1L232.6 437.7L232.6 438.2L232.6 438.8L232.6 439.3L232.6 439.9L232.6 440.5L232.6 441.0L232.6 441.6L232.6 442.1L232.6 442.7L232.6 443.3L232.6 443.8L232.6 444.4L232.6 445.0L232.6 445.5L232.6 446.1L232.6 446.6L232.6 447.2L232.6 447.8L232.6 448.3L232.6 448.9L232.6 449.4L232.6 450.0L232.6 450.5L232.6 450.9L232.6 451.4L232.6 451.8L232.6 452.3L232.6 452.7L232.6 453.2L232.6 453.7L232.6 454.1L232.6 454.6L232.6 455.1L232.6 455.5L232.6 456.0L232.6 456.5L232.6 457.0L232.6 457.4L232.6 457.9L232.6 458.4L232.6 458.9L232.6 459.4L232.6 459.9L232.6 460.3L232.6 460.8L232.6 461.3L232.6 461.8L232.6 462.3L232.6 462.8L232.6 463.3L232.6 463.8L232.6 464.3L232.6 464.8L232.6 465.3L232.6 465.8L232.6 466.3L232.6 466.8L232.6 467.3L232.6 467.8L232.6 468.3L232.6 468.8L232.6 469.3L232.6 469.8L232.6 470.3L232.6 470.9L232.6 471.4L232.6 471.9L232.6 472.4L232.6 472.9L232.6 473.4L232.6 474.0L232.6 474.5L232.6 475.0L232.6 475.5L232.6 476.0L232.6 476.6L232.6 477.1L232.6 477.6L232.6 478.1L232.6 478.7L232.6 479.2L232.6 479.7L232.6 480.3L232.6 480.8L232.6 481.3L232.6 481.9L232.6 482.4L232.6 482.9L232.6 483.5L232.6 484.0L232.6 484.5L232.6 485.1L232.6 485.6L232.6 486.1L232.6 486.7L232.6 487.2L232.6 487.7L232.6 488.3L232.6 488.8L232.6 489.4L232.6 489.9L232.6 490.5L232.6 491.0L232.6 491.5L232.6 492.1L232.6 492.6L232.6 493.2L232.6 493.7L232.6 494.3L232.6 494.8L232.6 495.3L232.6 495.9L232.6 496.4L232.6 497.0L232.6 497.5L232.6 498.1L232.6 498.6L232.6 499.2L232.6 499.7L232.6 500.3L232.6 500.8L232.6 501.4L232.6 501.9L232.6 502.5L232.6 503.0L232.6 503.6L232.6 504.1L232.6 504.7L232.6 505.2L232.6 505.8L232.6 506.3L232.6 506.9L232.6 507.4L232.6 508.0L232.6 508.5L232.6 509.1L232.6 509.6L232.6 510.1L232.6 510.7L232.6 511.2L232.6 511.8L232.6 512.3L232.6 512.9L232.6 513.4L232.6 514.0L232.6 514.5L232.6 515.1L232.6 515.6L232.6 516.2L232.6 516.7L232.6 517.3L232.6 517.8L232.6 518.4L232.6 518.9L232.6 519.4L232.6 520.0L232.6 520.5L232.6 521.1L232.6 521.6L232.6 522.2L232.6 522.7L232.6 523.2L232.6 523.8L232.7 524.3L232.7 524.9L232.7 525.4L232.7 526.0L232.7 526.5L232.7 527.0L232.7 527.6L232.7 528.1L232.7 528.6L232.7 529.2L232.7 529.7L232.7 530.2L232.7 530.8L232.7 531.3L232.7 531.8L232.7 532.4L232.7 532.9L232.7 533.4L232.7 534.0L232.7 534.5L232.7 535.0L232.7 535.5L232.7 536.1L232.7 536.6L232.7 537.1L232.7 537.6L232.7 538.2L232.7 538.7L232.7 539.2L232.7 539.7L232.7 540.2L232.7 540.8L232.7 541.3L232.7 541.8L232.7 542.3L232.7 542.8L232.7 543.3L232.7 543.8L232.7 544.3L232.7 544.9L232.7 545.4L232.7 545.9L232.7 546.4L232.7 546.9L232.7 547.4L232.7 547.9L232.7 548.4L232.7 548.9L232.7 549.4L232.7 549.9L232.7 550.4L232.7 550.9L232.7 551.3L232.7 551.8L232.7 552.3L232.7 552.8L232.7 553.3L232.7 553.8L232.7 554.3L232.7 554.7L232.7 555.2L232.8 555.7L232.8 556.2L232.8 556.7L232.8 557.1L232.8 557.6L232.8 558.1L232.8 558.5L232.8 559.0L232.8 559.5L232.8 559.9L232.8 560.4L232.8 560.9L232.8 561.3L232.8 561.8L232.8 562.2L232.8 562.7L232.8 563.2L232.8 563.6L232.8 564.1L232.8 564.5L232.8 564.9L232.8 565.4L232.8 565.8L232.8 566.3L232.8 566.7L232.8 567.1L232.8 567.6L232.8 568.0L232.8 568.4L232.9 568.9L232.9 569.3L232.9 569.7L232.9 570.1L232.9 570.6L232.9 571.0L232.9 571.4L232.9 571.8L232.9 572.2L232.9 572.6L232.9 573.0L232.9 573.4L232.9 573.9L232.9 574.3L232.9 574.7L232.9 575.0L232.9 575.4L232.9 575.8L232.9 576.2L232.9 576.6L233.0 577.0L233.0 577.4L233.0 577.8L233.0 578.1L233.0 578.5L233.0 578.9L233.0 579.3L233.0 579.6L233.0 580.0L233.0 580.8L233.0 581.6L233.0 582.3L233.1 583.1L233.1 583.8L233.1 584.6L233.1 585.3L233.1 586.1L233.1 586.8L233.2 587.5L233.2 588.2L233.2 588.9L233.2 589.6L233.2 590.2L233.2 590.9L233.3 591.6L233.3 592.2L233.3 592.9L233.3 593.5L233.3 594.1L233.4 594.8L233.4 595.4L233.4 596.0L233.4 596.6L233.5 597.2L233.5 597.8L233.5 598.4L233.5 599.0L233.5 599.6L233.6 600.1L233.6 600.7L233.6 601.2L233.6 601.8L233.7 602.3L233.7 602.9L233.7 603.4L233.7 603.9L233.8 604.5L233.8 605.0L233.8 605.5L233.8 606.0L233.9 606.5L233.9 607.0L233.9 607.5L233.9 608.0L234.0 608.5L234.0 609.0L234.0 609.4L234.0 609.9L234.1 610.4L234.1 610.9L234.1 611.3L234.1 611.8L234.2 612.2L234.2 612.7L234.2 613.1L234.3 613.6L234.3 614.0L234.3 614.5L234.3 614.9L234.4 615.3L234.4 615.8L234.4 616.2L234.4 616.6L234.5 617.1L234.5 617.5L234.5 617.9L234.6 618.3L234.6 618.7L234.6 619.1L234.6 619.6L234.7 620.0L234.7 620.4L234.7 620.8L234.7 621.2L234.8 621.6L234.8 622.0L234.8 622.4L234.9 622.8L234.9 623.2L234.9 623.6L234.9 624.0L235.0 624.4L235.0 624.8L235.0 625.2L235.0 625.6L235.1 626.0L235.1 626.4L235.1 626.8L235.1 627.2L235.2 627.6L235.2 628.0L235.2 628.4L235.2 628.9L235.3 629.3L235.3 629.7L235.3 630.1L235.3 630.5L235.4 630.9L235.4 631.3L235.4 631.7L235.4 632.1L235.5 632.5L235.5 633.0L235.5 633.4L235.5 633.8L235.5 634.2L235.6 634.7L235.6 635.1L235.6 635.5L235.6 636.0L235.6 636.4L235.7 636.8L235.7 637.3L235.7 637.7L235.7 638.2L235.7 638.6L235.8 639.1L235.8 639.5L235.8 640.0L235.8 640.5L235.8 641.1L235.9 641.6L235.9 642.2L235.9 642.7L235.9 643.2L235.9 643.8L236.0 644.3L236.0 644.8L236.0 645.3L236.0 645.9L236.0 646.4L236.0 646.9L236.1 647.4L236.1 648.0L236.1 648.5L236.1 649.0L236.1 649.5L236.1 650.0L236.2 650.5L236.2 651.0L236.2 651.6L236.2 652.1L236.2 652.6L236.2 653.1L236.2 653.6L236.3 654.1L236.3 654.6L236.3 655.1L236.3 655.6L236.3 656.1L236.3 656.6L236.3 657.1L236.3 657.6L236.4 658.1L236.4 658.6L236.4 659.1L236.4 659.6L236.4 660.1L236.4 660.6L236.4 661.1L236.4 661.6L236.5 662.1L236.5 662.6L236.5 663.1L236.5 663.6L236.5 664.1L236.5 664.6L236.5 665.1L236.5 665.5L236.5 666.0L236.6 666.5L236.6 667.0L236.6 667.5L236.6 668.0L236.6 668.5L236.6 669.0L236.6 669.5L236.6 669.9L236.6 670.4L236.7 670.9L236.7 671.4L236.7 671.9L236.7 672.4L236.7 672.9L236.7 673.4L236.7 673.8L236.7 674.3L236.7 674.8L236.8 675.3L236.8 675.8L236.8 676.3L236.8 676.8L236.8 677.2L236.8 677.7L236.8 678.2L236.8 678.7L236.8 679.2L236.9 679.7L236.9 680.2L236.9 680.7L236.9 681.1L236.9 681.6L236.9 682.1L236.9 682.6L237.0 683.1L237.0 683.6L237.0 684.1L237.0 684.6L237.0 685.1L237.0 685.6L237.0 686.0L237.0 686.5L237.1 687.0L237.1 687.5L237.1 688.0L237.1 688.5L237.1 689.0L237.1 689.5L237.2 690.0L237.2 690.5L237.2 691.0L237.2 691.5L237.2 692.0L237.2 692.5L237.2 693.0L237.3 693.5L237.3 694.0L237.3 694.5L237.3 695.0L237.3 695.4L237.3 695.9L237.4 696.4L237.4 696.9L237.4 697.4L237.4 697.9L237.4 698.3L237.4 698.8L237.5 699.3L237.5 699.8L237.5 700.3L237.5 700.7L237.5 701.2L237.6 701.7L237.6 702.2L237.6 702.6L237.6 703.1L237.6 703.6L237.6 704.0L237.7 704.5L237.7 705.0L237.7 705.4L237.7 705.9L237.7 706.4L237.7 706.9L237.8 707.3L237.8 707.8L237.8 708.3L237.8 708.7L237.8 709.2L237.8 709.7L237.9 710.1L237.9 710.6L237.9 711.1L237.9 711.5L237.9 712.0L238.0 712.5L238.0 713.0L238.0 713.4L238.0 713.9L238.0 714.4L238.0 714.8L238.1 715.3L238.1 715.8L238.1 716.3L238.1 716.8L238.1 717.2L238.2 717.7L238.2 718.2L238.2 718.7L238.2 719.2L238.2 719.6L238.3 720.1L238.3 720.6L238.3 721.1L238.3 721.6L238.3 722.1L238.4 722.6L238.4 723.1L238.4 723.6L238.4 724.1L238.4 724.6L238.5 725.1L238.5 725.6L238.5 726.1L238.5 726.6L238.5 727.1L238.6 727.6L238.6 728.1L238.6 728.6L238.6 729.1L238.6 729.7L238.7 730.2L238.7 730.7L238.7 731.2L238.7 731.8L238.8 732.3L238.8 732.8L238.8 733.4L238.8 733.9L238.8 734.5L238.9 735.0L238.9 735.6L238.9 736.1L238.9 736.7L239.0 737.2L239.0 737.8L239.0 738.4L239.0 738.9L239.1 739.5L239.1 740.1L239.1 740.7L239.1 741.2L239.2 741.8L239.2 742.4L239.2 743.0L239.2 743.4L239.2 743.9L239.3 744.3L239.3 744.8L239.3 745.2L239.3 745.7L239.3 746.1L239.3 746.6L239.4 747.1L239.4 747.5L239.4 748.0L239.4 748.5L239.4 748.9L239.5 749.4L239.5 749.9L239.5 750.4L239.5 750.9L239.5 751.4L239.6 751.9L239.6 752.4L239.6 752.9L239.6 753.4L239.7 753.9L239.7 754.4L239.7 754.9L239.7 755.4L239.7 755.9L239.8 756.5L239.8 757.0L239.8 757.5L239.8 758.0L239.8 758.5L239.9 759.1L239.9 759.6L239.9 760.1L239.9 760.7L240.0 761.2L240.0 761.7L240.0 762.3L240.0 762.8L240.0 763.4L240.1 763.9L240.1 764.4L240.1 765.0L240.1 765.5L240.2 766.1L240.2 766.6L240.2 767.2L240.2 767.7L240.3 768.3L240.3 768.8L240.3 769.4L240.3 769.9L240.3 770.5L240.4 771.0L240.4 771.6L240.4 772.2L240.4 772.7L240.5 773.3L240.5 773.8L240.5 774.4L240.5 774.9L240.6 775.5L240.6 776.1L240.6 776.6L240.6 777.2L240.6 777.7L240.7 778.3L240.7 778.8L240.7 779.4L240.7 779.9L240.8 780.5L240.8 781.0L240.8 781.6L240.8 782.2L240.9 782.7L240.9 783.3L240.9 783.8L240.9 784.4L241.0 784.9L241.0 785.4L241.0 786.0L241.0 786.5L241.1 787.1L241.1 787.6L241.1 788.2L241.1 788.7L241.1 789.2L241.2 789.8L241.2 790.3L241.2 790.8L241.2 791.4L241.3 791.9L241.3 792.4L241.3 792.9L241.3 793.5L241.4 794.0L241.4 794.5L241.4 795.0L241.4 795.5L241.4 796.1L241.5 796.6L241.5 797.1L241.5 797.6L241.5 798.1L241.6 798.6L241.6 799.1L241.6 799.6L241.6 800.1L241.7 800.5L241.7 801.0L241.7 801.5L241.7 802.0L241.7 802.5L241.8 802.9L241.8 803.4L241.8 803.9L241.8 804.3L241.8 804.8L241.9 805.3L241.9 805.7L241.9 806.2L241.9 806.6L242.0 807.0L242.0 807.5L242.0 807.9L242.0 808.3L242.0 808.8L242.1 809.2L242.1 809.6L242.1 810.0L242.1 810.4L242.1 810.8L242.2 811.2L242.2 811.6L242.2 812.0L242.2 812.4L242.2 812.8L242.3 813.2L242.3 813.5L242.3 813.9L242.3 814.7L242.4 815.5L242.4 816.2L242.5 817.0L242.5 817.7L242.5 818.4L242.6 819.1L242.6 819.8L242.7 820.4L242.7 821.1L242.7 821.7L242.8 822.3L242.8 822.9L242.9 823.5L242.9 824.0L242.9 824.6L243.0 825.2L243.0 825.7L243.0 826.2L243.1 826.7L243.1 827.2L243.1 827.7L243.2 828.2L243.2 828.7L243.2 829.2L243.3 829.6L243.3 830.1L243.3 830.5L243.4 831.0L243.4 831.4L243.4 831.8L243.5 832.3L243.5 832.7L243.5 833.1L243.6 833.5L243.6 833.9L243.6 834.3L243.7 834.7L243.7 835.1L243.8 835.5L243.8 835.9L243.8 836.3L243.9 836.7L243.9 837.1L243.9 837.5L244.0 837.9L244.0 838.3L244.0 838.8L244.1 839.2L244.1 839.6L244.1 840.0L244.2 840.4L244.2 840.8L244.2 841.3L244.3 841.7L244.3 842.2L244.3 842.6L244.4 843.1L244.4 843.5L244.4 844.0L244.5 844.5L244.5 845.0L244.6 845.5L244.6 846.0L244.6 846.5L244.7 847.0L244.7 847.5L244.7 847.9L244.8 848.4L244.8 848.9L244.9 849.4L244.9 849.9L244.9 850.4L245.0 850.9L245.0 851.4L245.0 851.9L245.1 852.4L245.1 852.9L245.2 853.4L245.2 853.9L245.2 854.4L245.3 854.9L245.3 855.4L245.3 855.8L245.4 856.3L245.4 856.8L245.5 857.3L245.5 857.8L245.5 858.3L245.6 858.8L245.6 859.3L245.7 859.8L245.7 860.3L245.7 860.8L245.8 861.3L245.8 861.9L245.8 862.4L245.9 862.9L245.9 863.4L246.0 863.9L246.0 864.4L246.0 864.9L246.1 865.4L246.1 865.9L246.2 866.4L246.2 866.9L246.2 867.4L246.3 867.9L246.3 868.4L246.4 868.9L246.4 869.4L246.4 869.9L246.5 870.4L246.5 870.9L246.6 871.4L246.6 871.9L246.6 872.4L246.7 872.9L246.7 873.4L246.7 874.0L246.8 874.5L246.8 875.0L246.9 875.5L246.9 876.0L246.9 876.5L247.0 877.0L247.0 877.5L247.0 878.0L247.1 878.5L247.1 879.0L247.2 879.5L247.2 880.0L247.2 880.5L247.3 881.0L247.3 881.5L247.3 882.0L247.4 882.5L247.4 883.0L247.5 883.6L247.5 884.1L247.5 884.6L247.6 885.1L247.6 885.6L247.6 886.1L247.7 886.6L247.7 887.2L247.8 887.7L247.8 888.2L247.8 888.7L247.9 889.2L247.9 889.7L247.9 890.3L248.0 890.8L248.0 891.3L248.0 891.8L248.1 892.3L248.1 892.9L248.1 893.4L248.2 893.9L248.2 894.4L248.3 894.9L248.3 895.5L248.3 896.0L248.4 896.5L248.4 897.0L248.4 897.5L248.5 898.1L248.5 898.6L248.5 899.1L248.6 899.6L248.6 900.1L248.6 900.6L248.7 901.1L248.7 901.7L248.8 902.2L248.8 902.7L248.8 903.2L248.9 903.7L248.9 904.2L248.9 904.7L249.0 905.2L249.0 905.7L249.0 906.2L249.1 906.7L249.1 907.2L249.2 907.7L249.2 908.2L249.2 908.7L249.3 909.2L249.3 909.6L249.3 910.1L249.4 910.6L249.4 911.1L249.5 911.6L249.5 912.1L249.5 912.5L249.6 913.0L249.6 913.5L249.7 913.9L249.7 914.4L249.7 915.0L249.8 915.5L249.8 916.1L249.9 916.6L249.9 917.1L250.0 917.7L250.0 918.2L250.1 918.8L250.1 919.3L250.2 919.9L250.2 920.4L250.3 920.9L250.3 921.5L250.4 922.0L250.4 922.5L250.5 923.0L250.5 923.6L250.6 924.1L250.6 924.6L250.7 925.1L250.7 925.7L250.8 926.2L250.8 926.7L250.9 927.2L250.9 927.7L251.0 928.2L251.0 928.7L251.1 929.2L251.2 929.7L251.2 930.2L251.3 930.7L251.3 931.2L251.4 931.7L251.4 932.2L251.5 932.7L251.5 933.2L251.6 933.7L251.6 934.2L251.7 934.7L251.7 935.2L251.8 935.6L251.8 936.1L251.9 936.6L251.9 937.1L252.0 937.5L252.0 938.0L252.1 938.5L252.1 938.9L252.2 939.4L252.2 939.9L252.3 940.3L252.3 940.8L252.4 941.2L252.4 941.7L252.5 942.1L252.5 942.6L252.6 943.0L252.7 943.6L252.7 944.2L252.8 944.7L252.9 945.3L252.9 945.8L253.0 946.4L253.1 946.9L253.1 947.5L253.2 948.0L253.2 948.5L253.3 949.1L253.4 949.6L253.4 950.1L253.5 950.6L253.5 951.1L253.6 951.6L253.7 952.1L253.7 952.6L253.8 953.1L253.9 953.6L253.9 954.1L254.0 954.6L254.0 955.1L254.1 955.6L254.2 956.0L254.2 956.5L254.3 957.0L254.4 957.5L254.4 958.0L254.5 958.4L254.6 958.9L254.6 959.4L254.7 959.9L254.8 960.3L254.9 960.8L254.9 961.3L255.0 961.8L255.1 962.3L255.2 962.7L255.2 963.2L255.3 963.7L255.4 964.2L255.5 964.7L255.6 965.2L255.7 965.7L255.8 966.2L255.9 966.7L256.0 967.2L256.1 967.7L256.2 968.2L256.3 968.7L256.4 969.2L256.5 969.7L256.6 970.3L256.7 970.8L256.8 971.3L256.9 971.8L257.0 972.3L257.1 972.8L257.2 973.3L257.3 973.8L257.5 974.3L257.6 974.8L257.7 975.3L257.8 975.8L257.9 976.3L258.0 976.7L258.1 977.2L258.3 977.7L258.4 978.2L258.5 978.7L258.6 979.2L258.7 979.7L258.8 980.2L258.9 980.7L259.0 981.1L259.2 981.6L259.3 982.1L259.4 982.6L259.5 983.1L259.6 983.5L259.7 984.0L259.8 984.5L259.9 984.9L260.0 985.4L260.1 985.9L260.2 986.5L260.3 987.0L260.5 987.5L260.6 988.0L260.7 988.6L260.8 989.1L260.9 989.6L261.0 990.1L261.1 990.7L261.2 991.2L261.4 991.7L261.5 992.2L261.6 992.8L261.7 993.3L261.8 993.8L261.9 994.3L262.0 994.8L262.1 995.3L262.2 995.8L262.3 996.3L262.4 996.8L262.5 997.3L262.7 997.8L262.8 998.3L262.9 998.8L263.0 999.2L263.1 999.7L263.2 1000.2L263.3 1000.6L263.4 1001.1L263.5 1001.5L263.6 1002.0L263.7 1002.4L263.8 1002.9L263.9 1003.3L264.0 1003.7L264.1 1004.3L264.3 1004.8L264.4 1005.4L264.6 1005.9L264.7 1006.4L264.8 1006.9L264.9 1007.4L265.1 1007.9L265.2 1008.4L265.3 1008.8L265.5 1009.3L265.6 1009.7L265.7 1010.1L265.8 1010.6L266.0 1011.0L266.1 1011.5L266.2 1011.9L266.4 1012.4L266.5 1012.8L266.6 1013.3L266.8 1013.7L266.9 1014.2L267.0 1014.7L267.2 1015.2L267.3 1015.8L267.5 1016.3L267.6 1016.7L267.7 1017.2L267.9 1017.7L268.0 1018.1L268.1 1018.6L268.3 1019.1L268.4 1019.6L268.5 1020.1L268.6 1020.6L268.8 1021.1L268.9 1021.6L269.0 1022.2L269.2 1022.7L269.3 1023.2L269.5 1023.7L269.6 1024.3L269.7 1024.8L269.9 1025.3L270.0 1025.8L270.2 1026.3L270.3 1026.8L270.4 1027.3L270.6 1027.8L270.7 1028.3L270.9 1028.8L271.0 1029.3L271.2 1029.8L271.3 1030.2L271.5 1030.7L271.6 1031.1L271.8 1031.5L271.9 1031.9L272.1 1029.1L272.3 1033.9L272.6 1036.0L272.8 1032.7L273.1 1031.1L273.3 1034.9L273.6 1036.8L273.8 1038.9L274.1 1033.3L274.3 1033.5L274.6 1039.2L274.9 1039.0L275.1 1042.1L275.4 1041.1L275.7 1038.7L276.0 1038.6L276.3 1044.4L276.6 1039.3L276.9 1038.4L277.2 1037.8L277.5 1041.4L277.8 1041.9L278.2 1041.0L278.6 1042.1L279.0 1043.3L279.4 1044.7L279.8 1046.0L280.2 1044.0L280.7 1039.1L281.1 1045.9L281.6 1040.6L282.0 1044.1L282.5 1041.0L282.9 1045.1L283.4 1043.3L283.8 1046.2L284.2 1050.6L284.6 1046.1L285.0 1048.7L285.4 1043.4L285.8 1046.5L286.1 1049.3L286.5 1047.7L286.8 1049.3L287.0 1049.1L287.3 1046.6L287.5 1051.1L287.8 1048.0L288.0 1055.3L288.2 1049.7L288.5 1053.3L288.7 1052.0L289.0 1054.9L289.3 1051.3L289.6 1055.9L289.9 1053.4L290.2 1057.4L290.6 1056.1L291.0 1055.2L291.5 1053.2L291.9 1057.4L292.2 1056.9L292.7 1060.2L293.1 1055.2L293.5 1057.9L294.0 1058.0L294.5 1057.7L294.9 1057.7L295.4 1057.9L295.9 1056.1L296.5 1055.3L297.0 1057.1L297.5 1059.9L298.0 1062.5L298.6 1061.3L299.1 1061.7L299.6 1061.1L300.2 1061.1L300.7 1059.9L301.2 1061.5L301.7 1064.2L302.2 1058.8L302.7 1058.0L303.2 1064.5L303.7 1060.4L304.1 1062.3L304.6 1062.0L305.1 1056.7L305.5 1064.2L306.0 1064.0L306.4 1059.6L306.9 1060.9L307.3 1059.0L307.8 1056.1L308.2 1057.9L308.6 1058.8L309.0 1060.4L309.5 1059.1L309.9 1057.0L310.3 1060.1L310.7 1054.3L311.2 1058.0L311.6 1058.5L312.1 1054.5L312.5 1050.4L313.0 1052.4L313.4 1055.1L313.9 1055.7L314.4 1058.1L314.9 1051.3L315.3 1053.8L315.8 1055.3L316.2 1053.1L316.7 1048.7L317.2 1055.4L317.7 1057.8L318.1 1055.6L318.6 1050.5L319.1 1051.8L319.6 1053.3L320.1 1057.3L320.6 1054.2L321.1 1052.8L321.6 1056.4L322.1 1052.1L322.6 1056.9L323.2 1050.4L323.7 1050.9L324.2 1053.9L324.8 1055.7L325.3 1053.6L325.9 1052.7L326.4 1047.2L327.0 1049.9L327.5 1050.2L327.9 1050.4L328.4 1053.3L328.9 1050.9L329.4 1053.8L329.9 1052.0L330.4 1050.9L331.0 1052.1L331.5 1052.9L332.0 1054.1L332.6 1050.6L333.1 1051.3L333.7 1048.4L334.2 1056.1L334.8 1055.8L335.3 1051.5L335.9 1050.8L336.4 1048.9L337.0 1052.5L337.5 1052.7L338.0 1056.8L338.5 1052.8L339.1 1050.1L339.6 1047.5L340.1 1055.8L340.5 1052.6L341.0 1047.9L341.5 1052.5L341.9 1047.8L342.3 1056.6L342.7 1054.8L343.1 1053.3L343.7 1051.2L344.3 1046.8L344.8 1050.9L345.4 1047.0L345.8 1052.3L346.3 1045.8L346.7 1047.9L347.2 1053.1L347.6 1053.9L347.9 1046.2L348.3 1045.0L348.7 1050.9L349.0 1050.5L349.4 1045.4L349.7 1045.8L350.1 1045.4L350.4 1043.7L350.7 1044.7L351.1 1049.4L351.4 1047.5L351.8 1050.0L352.1 1044.7L352.3 1044.2L352.6 1041.5L352.8 1043.3L353.1 1039.8L353.3 1038.1L353.5 1044.1L353.8 1045.6L354.0 1043.5L354.3 1044.4L354.6 1041.1L354.9 1038.2L355.2 1039.8L355.5 1038.2L355.9 1035.9L356.3 1034.0L356.8 1034.1L357.1 1037.7L357.5 1037.9L357.9 1036.0L358.3 1040.7L358.7 1037.2L359.2 1038.0L359.6 1039.3L360.1 1033.8L360.6 1031.0L361.1 1037.4L361.6 1033.4L362.1 1038.3L362.6 1035.6L363.1 1037.1L363.6 1036.2L364.1 1029.3L364.6 1035.7L365.1 1031.8L365.6 1031.4L366.1 1032.1L366.6 1035.1L367.1 1035.2L367.6 1035.4L368.1 1028.3L368.5 1031.0L369.0 1027.7L369.4 1032.0L370.0 1033.8L370.5 1030.1L371.1 1032.7L371.7 1032.6L372.3 1034.6L372.8 1029.9L373.4 1029.9L374.0 1030.1L374.5 1036.7L375.1 1035.0L375.6 1031.9L376.1 1033.0L376.6 1032.8L377.1 1033.1L377.6 1032.2L378.0 1032.0L378.5 1029.7L378.9 1031.5L379.3 1037.6L379.7 1034.9L380.2 1033.9L380.6 1033.5L381.0 1034.6L381.3 1035.7L381.6 1033.5L381.9 1036.1L382.1 1036.7L382.4 1034.6L382.6 1034.9L382.9 1034.8L383.2 1035.1L383.5 1040.7L383.9 1034.1L384.3 1038.5L384.6 1037.9L385.0 1038.3L385.3 1040.5L385.7 1043.6L386.1 1041.2L386.5 1041.1L386.9 1040.2L387.3 1041.9L387.7 1045.0L388.2 1042.0L388.6 1040.4L389.0 1040.4L389.5 1041.2L389.9 1040.7L390.4 1047.4L390.9 1045.6L391.3 1044.2L391.8 1048.7L392.3 1043.2L392.7 1046.8L393.1 1046.9L393.5 1040.6L393.9 1040.5L394.3 1041.9L394.7 1046.5L395.1 1047.3L395.6 1040.5L396.0 1046.1L396.4 1042.1L396.9 1041.8L397.3 1041.0L397.7 1041.3L398.2 1037.1L398.6 1038.8L399.1 1037.8L399.5 1041.9L400.0 1044.9L400.4 1044.6L400.9 1038.6L401.3 1034.6L401.7 1037.7L402.2 1035.9L402.6 1042.7L403.0 1039.2L403.3 1035.5L403.7 1039.4L404.1 1038.0L404.4 1032.0L404.8 1034.5L405.2 1034.8L405.6 1035.1L405.9 1034.9L406.3 1033.3L406.7 1034.2L407.1 1031.8L407.5 1030.5L407.8 1036.4L408.2 1032.9L408.6 1032.7L409.0 1027.0L409.3 1030.3L409.7 1032.5L410.0 1026.6L410.4 1032.5L410.7 1028.3L411.1 1030.0L411.4 1028.4L411.7 1029.0L412.0 1031.3L412.3 1027.0L412.6 1031.9L412.9 1025.7L413.5 1025.1L414.0 1029.3L414.5 1024.8L415.0 1026.8L415.4 1030.4L415.8 1031.5L416.2 1024.1L416.6 1030.5L417.0 1034.3L417.4 1033.1L417.8 1029.8L418.2 1029.3L418.7 1030.4L419.1 1028.5L419.5 1031.1L419.9 1031.7L420.3 1032.2L420.7 1036.0L421.2 1032.8L421.6 1030.0L422.0 1036.9L422.5 1031.8L422.9 1033.7L423.3 1034.8L423.8 1034.5L424.2 1033.0L424.6 1035.1L425.1 1040.4L425.5 1034.1L425.8 1035.2L426.2 1038.4L426.5 1037.2L426.8 1037.0L427.2 1037.0L427.5 1029.7L427.8 1031.8L428.2 1034.1L428.5 1034.6L428.9 1036.3L429.2 1033.7L429.5 1031.4L429.9 1031.7L430.2 1030.5L430.5 1031.2L430.8 1031.9L431.2 1028.7L431.5 1027.0L431.8 1026.4L432.1 1031.0L432.4 1031.0L432.6 1029.9L432.9 1029.1L433.1 1028.5L433.4 1025.9L433.6 1027.1L433.8 1022.1L434.0 1024.3L434.3 1023.7L434.5 1023.1L434.7 1022.6L434.9 1022.0L435.1 1021.4L435.4 1020.9L435.6 1019.8L435.8 1017.9L436.0 1021.2L436.2 1017.3L436.5 1018.1L436.7 1019.0L436.9 1021.1L437.1 1015.1L437.4 1014.5L437.6 1018.8L437.9 1013.6L438.1 1017.5L438.5 1014.7L438.9 1015.9L439.3 1011.5L439.7 1018.2L440.1 1015.2L440.5 1014.4L441.0 1021.7L441.4 1019.2L441.8 1022.5L442.3 1019.3L442.7 1017.8L443.1 1019.5L443.5 1023.9L443.9 1020.2L444.3 1022.0L444.7 1022.8L445.0 1019.6L445.2 1022.7L445.4 1021.4L445.6 1019.9L445.7 1023.6L445.9 1024.0L446.0 1024.5L446.2 1025.0L446.3 1025.5L446.5 1026.0L446.6 1026.5L446.7 1027.0L446.9 1027.6L447.0 1028.1L447.1 1028.7L447.3 1029.2L447.4 1029.8L447.5 1030.3L447.7 1030.9L447.8 1031.4L448.0 1031.9L448.2 1032.4L448.3 1033.0L448.5 1033.5L448.7 1036.2L448.9 1036.1L449.1 1035.1L449.4 1032.9L449.6 1031.0L449.9 1037.4L450.2 1036.3L450.5 1032.7L450.8 1037.3L451.1 1034.0L451.5 1038.3L451.8 1039.2L452.2 1040.1L452.5 1040.2L452.9 1040.5L453.3 1037.5L453.6 1039.8L454.0 1039.9L454.4 1040.9L454.8 1042.6L455.2 1043.8L455.7 1046.8L456.1 1038.1L456.5 1044.1L456.9 1042.8L457.4 1048.3L457.8 1046.2L458.3 1039.7L458.7 1045.2L459.2 1042.9L459.6 1047.0L460.1 1041.7L460.6 1044.3L461.1 1044.2L461.6 1044.3L462.1 1043.0L462.6 1039.8L463.2 1045.6L463.7 1046.9L464.3 1044.0L464.8 1041.4L465.4 1044.5L465.9 1045.3L466.5 1043.2L467.1 1043.5L467.6 1047.0L468.1 1040.3L468.7 1041.6L469.2 1038.3L469.7 1041.0L470.2 1040.7L470.7 1040.0L471.2 1040.6L471.7 1046.9L472.1 1041.6L472.5 1041.8L472.9 1046.7L473.6 1041.7L474.3 1037.2L474.9 1042.7L475.4 1039.1L475.9 1045.7L476.3 1038.1L476.8 1039.8L477.2 1037.0L477.6 1041.4L478.1 1038.4L478.6 1040.8L479.2 1040.0L479.8 1039.3L480.2 1043.3L480.7 1043.3L481.2 1040.9L481.7 1038.4L482.2 1037.9L482.7 1041.3L483.3 1045.3L483.8 1039.4L484.4 1038.5L484.9 1038.7L485.5 1037.6L486.1 1037.9L486.6 1039.9L487.2 1044.2L487.7 1040.5L488.2 1039.2L488.7 1036.4L489.2 1041.2L489.7 1040.7L490.1 1037.7L490.6 1038.3L491.1 1041.2L491.5 1044.2L492.0 1043.4L492.4 1042.6L492.8 1041.6L493.2 1043.6L493.6 1043.0L494.0 1048.1L494.3 1040.9L494.7 1043.2L495.1 1047.9L495.5 1044.3L495.8 1049.1L496.2 1045.7L496.6 1046.6L497.0 1045.6L497.3 1043.4L497.7 1044.8L498.0 1052.4L498.3 1049.7L498.7 1050.0L499.0 1051.3L499.3 1050.7L499.6 1052.3L499.9 1049.4L500.3 1049.9L500.6 1053.4L500.9 1050.4L501.2 1048.2L501.6 1051.5L501.9 1051.1L502.3 1054.6L502.7 1051.5L503.0 1051.0L503.4 1053.3L503.8 1058.6L504.1 1054.8L504.5 1055.7L504.8 1055.7L505.2 1056.8L505.5 1058.8L505.9 1060.4L506.2 1052.8L506.6 1061.0L507.0 1057.8L507.4 1057.4L507.7 1063.3L508.1 1058.5L508.5 1064.0L508.9 1062.2L509.3 1057.3L509.7 1061.6L510.1 1062.6L510.5 1060.7L510.9 1056.6L511.3 1060.7L511.7 1061.4L512.1 1059.3L512.6 1067.1L513.0 1062.0L513.5 1061.8L513.9 1062.2L514.4 1061.2L514.9 1061.3L515.4 1063.7L516.0 1064.4L516.5 1062.4L517.0 1063.6L517.6 1060.4L518.1 1065.4L518.6 1062.2L519.2 1064.8L519.7 1061.9L520.2 1063.0L520.8 1065.0L521.3 1061.3L521.8 1069.2L522.3 1064.5L522.7 1064.4L523.2 1062.8L523.6 1068.9L524.0 1068.4L524.4 1065.7L525.1 1061.5L525.8 1064.0L526.4 1067.2L527.0 1064.5L527.5 1063.0L528.0 1063.2L528.4 1064.4L528.9 1066.5L529.3 1064.8L529.7 1066.4L530.2 1070.8L530.5 1070.5L530.7 1062.9L531.0 1066.2L531.3 1065.2L531.5 1064.3L531.7 1067.0L532.0 1063.0L532.2 1062.5L532.5 1061.9L532.7 1062.2L532.9 1065.2L533.2 1063.4L533.4 1057.3L533.6 1059.1L533.9 1057.6L534.2 1061.3L534.4 1059.2L534.7 1060.3L534.9 1057.4L535.1 1052.5L535.3 1056.7L535.4 1056.2L535.6 1055.7L535.8 1055.2L536.0 1054.7L536.2 1054.1L536.4 1053.6L536.6 1053.0L536.7 1052.5L536.9 1051.9L537.1 1051.3L537.3 1050.8L537.5 1050.2L537.8 1049.7L538.0 1050.3L538.2 1049.3L538.4 1049.5L538.6 1044.3L538.9 1047.5L539.1 1045.1L539.4 1044.7L539.7 1047.1L539.9 1046.8L540.2 1043.3L540.5 1040.9L540.9 1040.5L541.3 1043.5L541.7 1047.9L542.1 1044.7L542.6 1040.2L543.0 1042.7L543.5 1046.1L543.9 1049.5L544.4 1048.3L544.9 1046.4L545.4 1046.2L545.9 1043.1L546.4 1044.9L546.9 1045.4L547.5 1044.5L548.0 1046.9L548.6 1045.9L549.1 1048.1L549.7 1051.1L550.2 1049.5L550.8 1048.8L551.2 1047.2L551.7 1044.0L552.1 1047.8L552.6 1049.6L553.1 1045.7L553.6 1051.8L554.1 1047.8L554.6 1049.8L555.1 1048.1L555.6 1045.9L556.1 1054.0L556.7 1046.5L557.2 1052.0L557.7 1048.4L558.2 1050.7L558.8 1048.0L559.3 1049.2L559.8 1052.8L560.3 1055.2L560.8 1048.5L561.3 1050.8L561.8 1053.4L562.3 1049.3L562.7 1052.9L563.2 1049.1L563.7 1052.7L564.1 1052.3L564.5 1054.4L565.1 1052.1L565.7 1048.1L566.2 1052.8L566.7 1048.2L567.2 1052.9L567.7 1054.8L568.2 1052.3L568.7 1049.1L569.2 1053.5L569.6 1050.7L570.1 1046.8L570.5 1048.9L571.0 1053.2L571.4 1048.5L571.8 1049.3L572.3 1047.8L572.8 1044.0L573.2 1046.7L573.7 1048.6L574.0 1048.0L574.4 1046.7L574.7 1042.2L575.1 1049.7L575.4 1048.0L575.7 1048.5L576.1 1048.8L576.4 1043.9L576.7 1043.1L577.1 1045.1L577.4 1048.2L577.7 1039.0L578.1 1042.4L578.4 1040.7L578.8 1043.6L579.1 1045.5L579.4 1040.5L579.8 1037.6L580.1 1040.5L580.4 1039.2L580.8 1035.6L581.1 1041.5L581.4 1037.4L581.8 1040.2L582.1 1034.6L582.5 1040.6L582.8 1033.7L583.2 1039.8L583.6 1032.0L584.1 1039.9L584.5 1035.0L585.0 1031.6L585.4 1034.7L585.8 1035.9L586.3 1032.2L586.7 1033.2L587.2 1034.9L587.6 1033.5L588.0 1029.0L588.5 1032.3L588.9 1034.2L589.3 1033.6L589.7 1035.2L590.1 1030.4L590.5 1036.6L590.9 1033.7L591.3 1032.1L591.7 1033.8L592.0 1033.1L592.3 1030.5L592.7 1028.2L593.0 1032.0L593.3 1030.0L593.6 1023.8L593.9 1025.2L594.2 1028.8L594.4 1027.4L594.7 1027.4L594.9 1027.8L595.2 1026.1L595.4 1029.3L595.7 1023.2L595.9 1023.3L596.2 1024.7L596.4 1025.3L596.7 1025.0L596.9 1026.4L597.2 1020.9L597.4 1024.8L597.7 1022.6L598.1 1018.2L598.4 1020.1L598.7 1024.7L599.1 1021.7L599.4 1018.0L599.8 1014.2L600.1 1016.6L600.5 1016.3L600.8 1018.0L601.2 1022.1L601.5 1019.1L601.9 1017.6L602.3 1014.1L602.7 1013.1L603.1 1015.4L603.5 1014.5L603.9 1020.1L604.4 1014.2L604.9 1013.4L605.3 1017.7L605.8 1014.8L606.3 1011.2L606.8 1017.6L607.4 1013.3L607.9 1010.5L608.4 1014.7L608.9 1015.0L609.4 1012.8L610.0 1015.4L610.5 1015.6L611.0 1011.2L611.5 1008.7L612.0 1008.7L612.5 1013.0L613.0 1016.5L613.6 1016.0L614.1 1017.0L614.6 1018.1L615.1 1013.5L615.6 1016.3L616.2 1009.6L616.7 1015.5L617.2 1014.8L617.7 1013.7L618.1 1012.9L618.6 1011.3L619.1 1014.7L619.5 1017.8L620.0 1013.8L620.4 1016.3L620.8 1013.5L621.2 1016.2L621.5 1013.2L621.9 1017.2L622.2 1015.9L622.6 1017.7L622.9 1015.7L623.3 1014.5L623.7 1017.1L624.2 1021.0L624.7 1022.8L625.2 1018.3L625.6 1021.4L625.9 1021.5L626.3 1020.8L626.7 1016.0L627.2 1021.2L627.6 1018.1L628.1 1023.9L628.5 1023.2L629.0 1023.0L629.5 1017.0L630.0 1023.6L630.4 1024.0L630.9 1019.2L631.4 1025.3L631.9 1023.2L632.4 1022.8L632.9 1021.7L633.3 1021.1L633.8 1022.9L634.2 1028.9L634.7 1025.0L635.1 1025.2L635.5 1023.1L636.1 1023.4L636.6 1023.8L637.2 1023.1L637.8 1027.9L638.3 1025.0L638.9 1028.1L639.4 1023.0L640.0 1028.5L640.5 1026.1L641.0 1028.0L641.4 1026.1L641.9 1024.2L642.3 1029.8L642.8 1025.6L643.1 1026.5L643.5 1024.8L644.1 1028.1L644.5 1027.1L644.9 1029.5L645.2 1030.3L645.5 1028.2L645.7 1026.9L645.9 1032.1L646.2 1033.5L646.5 1032.8L646.7 1027.8L646.8 1032.2L647.0 1031.3L647.2 1030.6L647.3 1029.5L647.5 1029.0L647.7 1028.5L647.8 1027.9L648.0 1027.3L648.1 1026.7L648.3 1026.1L648.5 1025.5L648.6 1024.9L648.8 1024.2L649.0 1023.6L649.1 1023.1L649.3 1022.5L649.4 1022.0L649.6 1021.5L649.8 1020.9L649.9 1020.3L650.1 1019.7L650.3 1019.1L650.4 1018.4L650.6 1017.8L650.8 1017.1L650.9 1016.5L651.1 1015.9L651.3 1015.3L651.4 1014.8L651.6 1014.3L651.7 1013.8L651.9 1013.4L652.0 1013.1L652.1 1012.8L652.2 1012.6L652.3 1012.5L652.4 1012.5L652.5 1012.6L652.6 1012.8L652.6 1013.1L652.7 1013.5L652.7 1014.0L652.8 1014.5L652.8 1015.1L652.8 1015.8L652.8 1016.4L652.8 1017.1L652.8 1017.9L652.8 1018.6L652.9 1019.3L652.9 1020.0L652.9 1020.4L652.9 1020.8L653.0 1021.2L653.0 1021.7L653.0 1022.1L653.0 1022.5L653.0 1023.0L653.0 1023.5L653.0 1023.9L653.1 1024.4L653.1 1024.9L653.1 1025.4L653.1 1025.9L653.1 1026.4L653.1 1026.9L653.1 1027.4L653.1 1028.0L653.2 1028.5L653.2 1029.1L653.2 1029.6L653.2 1030.2L653.2 1030.7L653.2 1031.3L653.3 1031.8L653.3 1032.4L653.3 1033.0L653.3 1033.4L653.3 1033.9L653.3 1034.4L653.4 1034.8L653.4 1035.3L653.4 1035.8L653.4 1036.3L653.4 1036.8L653.4 1037.3L653.4 1037.8L653.4 1038.3L653.4 1038.8L653.5 1039.3L653.5 1039.8L653.5 1040.3L653.5 1040.8L653.5 1041.3L653.5 1041.9L653.5 1042.4L653.6 1042.9L653.6 1043.4L653.6 1044.0L653.6 1044.5L653.6 1045.0L653.7 1045.5L653.7 1046.1L653.7 1046.6L653.8 1047.1L653.8 1047.6L653.8 1048.2L653.9 1048.7L653.9 1049.2L654.0 1049.7L654.0 1050.2L654.1 1050.7L654.1 1051.2L654.2 1051.7L654.2 1052.2L654.3 1052.7L654.3 1053.2L654.4 1053.6L654.5 1054.1L654.5 1054.6L654.6 1055.1L654.7 1055.6L654.8 1056.0L654.9 1056.5L654.9 1057.0L655.0 1057.5L655.1 1058.0L655.2 1058.4L655.3 1058.9L655.3 1059.4L655.4 1059.9L655.5 1060.4L655.6 1060.9L655.7 1061.4L655.8 1061.9L655.9 1062.4L655.9 1063.0L656.0 1063.5L656.1 1064.0L656.2 1064.6L656.3 1065.1L656.4 1065.7L656.4 1066.2L656.5 1066.8L656.6 1067.4L656.7 1067.8L656.7 1068.3L656.8 1068.7L656.8 1069.2L656.9 1069.6L657.0 1070.1L657.0 1070.6L657.1 1071.0L657.1 1071.5L657.2 1072.0L657.2 1072.5L657.3 1073.0L657.4 1073.5L657.4 1073.9L657.5 1074.4L657.6 1074.9L657.6 1075.4L657.7 1075.9L657.7 1076.5L657.8 1077.0L657.9 1077.5L657.9 1078.0L658.0 1078.5L658.0 1079.0L658.1 1079.5L658.2 1080.0L658.2 1080.6L658.3 1081.1L658.3 1081.6L658.4 1082.1L658.5 1082.6L658.5 1083.1L658.6 1083.7L658.6 1084.2L658.7 1084.7L658.7 1085.2L658.8 1085.7L658.9 1086.2L658.9 1086.8L659.0 1087.3L659.0 1087.8L659.1 1088.3L659.1 1088.8L659.2 1089.3L659.2 1089.8L659.3 1090.3L659.4 1090.8L659.4 1091.3L659.5 1091.8L659.5 1092.3L659.6 1092.8L659.6 1093.3L659.7 1093.9L659.7 1094.4L659.8 1094.9L659.8 1095.4L659.9 1096.0L659.9 1096.5L660.0 1097.0L660.0 1097.5L660.1 1098.1L660.2 1098.6L660.2 1099.1L660.3 1099.6L660.3 1100.2L660.4 1100.7L660.4 1101.2L660.5 1101.7L660.5 1102.3L660.6 1102.8L660.6 1103.3L660.7 1103.8L660.7 1104.3L660.8 1104.8L660.8 1105.3L660.9 1105.8L660.9 1106.3L660.9 1106.8L661.0 1107.3L661.0 1107.8L661.1 1108.3L661.1 1108.8L661.2 1109.2L661.2 1109.7L661.2 1110.2L661.3 1110.6L661.3 1111.1L661.4 1111.5L661.4 1111.9L661.4 1112.4L661.5 1112.8L661.5 1113.2L661.6 1113.8L661.6 1114.4L661.6 1115.0L661.7 1115.5L661.7 1116.0L661.8 1116.5L661.8 1116.9L661.8 1117.3L661.9 1117.7L661.9 1118.2L661.9 1118.5L661.9 1118.9L662.0 1119.3L662.0 1119.7L662.0 1120.1L662.0 1120.5L662.0 1120.9L662.1 1121.3L662.1 1121.8L662.1 1122.3L662.1 1122.7L662.2 1123.3L662.2 1123.8L662.2 1124.4L662.3 1125.0L662.3 1125.7L662.3 1126.4L662.4 1127.2L662.4 1128.0L662.4 1128.4L662.4 1128.7L662.5 1129.1L662.5 1129.5L662.5 1129.9L662.5 1130.3L662.5 1130.7L662.6 1131.1L662.6 1131.5L662.6 1132.0L662.6 1132.4L662.6 1132.8L662.6 1133.3L662.7 1133.7L662.7 1134.2L662.7 1134.7L662.7 1135.1L662.8 1135.6L662.8 1136.1L662.8 1136.6L662.8 1137.0L662.8 1137.5L662.9 1138.0L662.9 1138.5L662.9 1139.0L662.9 1139.5L662.9 1140.1L663.0 1140.6L663.0 1141.1L663.0 1141.6L663.0 1142.1L663.1 1142.7L663.1 1143.2L663.1 1143.7L663.1 1144.3L663.1 1144.8L663.2 1145.3L663.2 1145.9L663.2 1146.4L663.2 1147.0L663.3 1147.5L663.3 1148.0L663.3 1148.6L663.3 1149.1L663.4 1149.7L663.4 1150.2L663.4 1150.8L663.4 1151.3L663.5 1151.9L663.5 1152.4L663.5 1153.0L663.5 1153.5L663.6 1154.1L663.6 1154.6L663.6 1155.2L663.7 1155.7L663.7 1156.3L663.7 1156.8L663.7 1157.3L663.8 1157.9L663.8 1158.4L663.8 1158.9L663.9 1159.5L663.9 1160.0L663.9 1160.5L663.9 1161.1L664.0 1161.6L664.0 1162.1L664.0 1162.6L664.1 1163.1L664.1 1163.6L664.1 1164.1L664.1 1164.5L664.2 1165.0L664.2 1165.5L664.2 1166.0L664.3 1166.5L664.3 1167.0L664.3 1167.5L664.4 1168.0L664.4 1168.5L664.4 1169.0L664.5 1169.5L664.5 1170.0L664.5 1170.5L664.6 1171.0L664.6 1171.5L664.6 1172.0L664.7 1172.5L664.7 1173.0L664.7 1173.5L664.8 1174.0L664.8 1174.5L664.8 1175.0L664.9 1175.5L664.9 1176.0L664.9 1176.5L665.0 1177.0L665.0 1177.5L665.1 1178.0L665.1 1178.5L665.1 1179.0L665.2 1179.5L665.2 1180.0L665.2 1180.5L665.3 1181.0L665.3 1181.5L665.3 1182.0L665.4 1182.6L665.4 1183.1L665.5 1183.6L665.5 1184.1L665.5 1184.6L665.6 1185.1L665.6 1185.6L665.6 1186.1L665.7 1186.6L665.7 1187.1L665.8 1187.6L665.8 1188.1L665.8 1188.6L665.9 1189.1L665.9 1189.6L665.9 1190.1L666.0 1190.6L666.0 1191.2L666.0 1191.7L666.1 1192.2L666.1 1192.7L666.2 1193.2L666.2 1193.7L666.2 1194.2L666.3 1194.7L666.3 1195.2L666.3 1195.7L666.4 1196.2L666.4 1196.7L666.4 1197.2L666.5 1197.7L666.5 1198.2L666.5 1198.7L666.6 1199.2L666.6 1199.7L666.6 1200.2L666.7 1200.7L666.7 1201.2L666.7 1201.7L666.8 1202.2L666.8 1202.7L666.8 1203.2L666.9 1203.7L666.9 1204.2L666.9 1204.7L667.0 1205.2L667.0 1205.7L667.0 1206.2L667.1 1206.7L667.1 1207.2L667.1 1207.7L667.2 1208.2L667.2 1208.7L667.2 1209.2L667.3 1209.7L667.3 1210.2L667.3 1210.7L667.3 1211.2L667.4 1211.7L667.4 1212.2L667.4 1212.7L667.5 1213.2L667.5 1213.7L667.5 1214.2L667.6 1214.7L667.6 1215.2L667.6 1215.7L667.7 1216.2L667.7 1216.8L667.7 1217.3L667.8 1217.8L667.8 1218.3L667.8 1218.8L667.9 1219.3L667.9 1219.8L667.9 1220.3L668.0 1220.8L668.0 1221.3L668.0 1221.8L668.1 1222.3L668.1 1222.8L668.1 1223.3L668.2 1223.8L668.2 1224.3L668.2 1224.8L668.3 1225.3L668.3 1225.8L668.3 1226.3L668.4 1226.8L668.4 1227.3L668.4 1227.8L668.5 1228.3L668.5 1228.8L668.5 1229.3L668.6 1229.8L668.6 1230.3L668.6 1230.8L668.7 1231.3L668.7 1231.8L668.8 1232.3L668.8 1232.8L668.8 1233.3L668.9 1233.8L668.9 1234.3L668.9 1234.8L669.0 1235.3L669.0 1235.8L669.1 1236.3L669.1 1236.9L669.1 1237.4L669.2 1237.9L669.2 1238.5L669.3 1239.0L669.3 1239.5L669.3 1240.1L669.4 1240.6L669.4 1241.2L669.5 1241.7L669.5 1242.3L669.6 1242.8L669.6 1243.4L669.7 1243.9L669.7 1244.5L669.8 1245.1L669.8 1245.6L669.8 1246.2L669.9 1246.8L669.9 1247.3L670.0 1247.9L670.0 1248.4L670.1 1249.0L670.1 1249.6L670.2 1250.1L670.2 1250.7L670.3 1251.2L670.3 1251.8L670.4 1252.4L670.4 1252.9L670.5 1253.5L670.5 1254.0L670.6 1254.6L670.6 1255.1L670.6 1255.6L670.7 1256.2L670.7 1256.7L670.8 1257.2L670.8 1257.8L670.9 1258.3L670.9 1258.8L671.0 1259.3L671.0 1259.8L671.0 1260.3L671.1 1260.8L671.1 1261.3L671.2 1261.8L671.2 1262.3L671.3 1262.8L671.3 1263.2L671.3 1263.7L671.4 1264.2L671.4 1264.6L671.5 1265.1L671.5 1265.5L671.5 1265.9L671.6 1266.3L671.6 1266.8L671.6 1267.2L671.7 1267.6L671.7 1267.9L671.7 1268.3L671.8 1268.7L671.8 1269.1L671.8 1269.4L671.8 1269.7L671.9 1270.1L671.9 1270.4L672.0 1271.5L672.1 1272.3L672.1 1273.0L672.2 1273.5L672.2 1273.9L672.2 1274.2L672.2 1274.3L672.2 1274.5L672.2 1274.5L672.2 1274.6L672.2 1274.8L672.2 1274.9L672.3 1275.2L672.3 1275.6L672.3 1276.1L672.4 1276.7L672.4 1277.6L672.5 1278.7L672.6 1280.0L672.6 1280.3L672.6 1280.6L672.7 1281.0L672.7 1281.3L672.7 1281.6L672.7 1282.0L672.8 1282.4L672.8 1282.7L672.8 1283.1L672.9 1283.5L672.9 1283.9L672.9 1284.3L672.9 1284.7L673.0 1285.2L673.0 1285.6L673.0 1286.0L673.1 1286.5L673.1 1286.9L673.1 1287.4L673.2 1287.9L673.2 1288.3L673.2 1288.8L673.3 1289.3L673.3 1289.8L673.3 1290.3L673.4 1290.8L673.4 1291.3L673.4 1291.8L673.5 1292.3L673.5 1292.8L673.6 1293.4L673.6 1293.9L673.6 1294.4L673.7 1295.0L673.7 1295.5L673.7 1296.0L673.8 1296.6L673.8 1297.1L673.9 1297.7L673.9 1298.3L673.9 1298.8L674.0 1299.4L674.0 1299.9L674.1 1300.5L674.1 1301.1L674.1 1301.6L674.2 1302.2L674.2 1302.8L674.3 1303.3L674.3 1303.9L674.4 1304.5L674.4 1305.1L674.4 1305.6L674.5 1306.2L674.5 1306.8L674.6 1307.4L674.6 1307.9L674.6 1308.5L674.7 1309.1L674.7 1309.7L674.8 1310.2L674.8 1310.8L674.9 1311.4L674.9 1311.9L674.9 1312.5L675.0 1313.1L675.0 1313.6L675.1 1314.2L675.1 1314.7L675.2 1315.3L675.2 1315.8L675.2 1316.4L675.3 1316.9L675.3 1317.4L675.4 1318.0L675.4 1318.5L675.4 1319.0L675.5 1319.5L675.5 1320.1L675.6 1320.6L675.6 1321.1L675.6 1321.6L675.7 1322.1L675.7 1322.6L675.8 1323.0L675.8 1323.5L675.8 1324.0L675.9 1324.4L675.9 1324.9L676.0 1325.4L676.0 1325.8L676.1 1326.4L676.1 1327.0L676.2 1327.5L676.2 1328.1L676.3 1328.7L676.3 1329.2L676.4 1329.8L676.4 1330.3L676.5 1330.9L676.5 1331.4L676.6 1332.0L676.6 1332.5L676.7 1333.1L676.7 1333.6L676.8 1334.1L676.8 1334.7L676.9 1335.2L676.9 1335.7L677.0 1336.3L677.0 1336.8L677.1 1337.3L677.1 1337.8L677.2 1338.3L677.2 1338.8L677.3 1339.3L677.3 1339.9L677.4 1340.4L677.4 1340.9L677.5 1341.4L677.5 1341.9L677.6 1342.4L677.6 1342.8L677.7 1343.3L677.7 1343.8L677.8 1344.3L677.8 1344.8L677.9 1345.3L677.9 1345.8L678.0 1346.3L678.0 1346.7L678.1 1347.2L678.1 1347.7L678.2 1348.2L678.2 1348.6L678.3 1349.1L678.3 1349.6L678.4 1350.1L678.4 1350.5L678.5 1351.0L678.5 1351.5L678.6 1351.9L678.6 1352.4L678.7 1352.9L678.7 1353.3L678.8 1353.8L678.8 1354.2L678.9 1354.7L678.9 1355.2L679.0 1355.6L679.0 1356.1L679.1 1356.5L679.1 1357.0L679.2 1357.5L679.2 1357.9L679.3 1358.4L679.3 1358.8L679.4 1359.3L679.4 1359.7L679.5 1360.2L679.6 1360.8L679.6 1361.3L679.7 1361.8L679.7 1362.4L679.8 1362.9L679.9 1363.5L679.9 1364.0L680.0 1364.6L680.0 1365.1L680.1 1365.6L680.1 1366.2L680.2 1366.7L680.3 1367.2L680.3 1367.8L680.4 1368.3L680.4 1368.8L680.5 1369.3L680.5 1369.9L680.6 1370.4L680.7 1370.9L680.7 1371.4L680.8 1371.9L680.8 1372.4L680.9 1372.9L680.9 1373.5L681.0 1374.0L681.0 1374.5L681.1 1375.0L681.2 1375.5L681.2 1376.0L681.3 1376.5L681.3 1377.0L681.4 1377.5L681.4 1378.0L681.5 1378.4L681.6 1378.9L681.6 1379.4L681.7 1379.9L681.7 1380.4L681.8 1380.9L681.9 1381.4L681.9 1381.8L682.0 1382.3L682.0 1382.8L682.1 1383.3L682.2 1383.7L682.2 1384.2L682.3 1384.7L682.4 1385.1L682.4 1385.6L682.5 1386.1L682.6 1386.5L682.6 1387.0L682.7 1387.4L682.8 1387.9L682.8 1388.3L682.9 1388.8L683.0 1389.4L683.1 1389.9L683.2 1390.5L683.3 1391.0L683.3 1391.6L683.4 1392.1L683.5 1392.6L683.6 1393.2L683.7 1393.7L683.8 1394.2L683.9 1394.7L684.0 1395.3L684.1 1395.8L684.2 1396.3L684.3 1396.8L684.4 1397.3L684.5 1397.8L684.6 1398.3L684.7 1398.8L684.8 1399.3L684.9 1399.8L685.0 1400.3L685.1 1400.8L685.2 1401.3L685.3 1401.8L685.4 1402.3L685.5 1402.8L685.6 1403.3L685.7 1403.7L685.8 1404.2L685.9 1404.7L686.0 1405.2L686.1 1405.6L686.2 1406.1L686.3 1406.6L686.4 1407.1L686.5 1407.5L686.6 1408.0L686.7 1408.5L686.8 1408.9L686.9 1409.4L687.1 1409.9L687.2 1410.3L687.3 1410.8L687.4 1411.2L687.5 1411.7L687.6 1412.2L687.8 1412.8L687.9 1413.3L688.0 1413.8L688.2 1414.4L688.3 1414.9L688.4 1415.4L688.6 1416.0L688.7 1416.5L688.9 1417.1L689.0 1417.6L689.2 1418.1L689.3 1418.7L689.5 1419.2L689.6 1419.7L689.8 1420.2L689.9 1420.8L690.1 1421.3L690.2 1421.8L690.4 1422.3L690.5 1422.8L690.6 1423.3L690.8 1423.8L690.9 1424.3L691.1 1424.8L691.2 1425.3L691.4 1425.8L691.5 1426.2L691.7 1426.7L691.8 1427.1L692.0 1427.6L692.1 1428.0L692.3 1428.4L692.4 1428.9L692.5 1429.3L692.7 1429.7L692.8 1430.1L692.9 1430.5L693.1 1430.8L693.2 1431.2L693.5 1431.9L693.7 1432.6L693.9 1433.2L694.2 1433.8L694.4 1434.3L694.6 1434.8L694.8 1435.3L695.1 1435.8L695.3 1436.3L695.5 1436.7L695.7 1437.1L695.9 1437.5L696.2 1437.9L696.4 1438.2L696.6 1438.6L696.8 1438.9L697.1 1439.3L697.3 1439.6L697.5 1440.0L697.8 1440.3L698.2 1440.8L698.6 1441.2L699.0 1441.7L699.4 1442.1L699.8 1442.5L700.2 1443.2L700.6 1442.9L701.1 1443.7L701.5 1444.6L701.9 1443.6L702.3 1443.0L702.7 1444.4L703.1 1444.9L703.5 1443.3L704.1 1444.5L704.6 1445.8L705.1 1445.3L705.6 1445.5L706.0 1444.3L706.5 1446.2L707.0 1446.8L707.5 1444.9L708.1 1444.2L708.5 1443.7L708.9 1445.3L709.3 1444.3L709.7 1443.2L710.1 1444.6L710.5 1443.9L711.0 1443.4L711.4 1440.9L711.8 1442.0L712.3 1442.3L712.8 1440.3L713.3 1442.0L713.8 1442.2L714.2 1441.6L714.7 1439.9L715.1 1439.7L715.6 1441.0L716.1 1440.9L716.6 1440.9L717.1 1440.7L717.6 1439.4L718.1 1439.0L718.6 1437.7L719.1 1439.9L719.7 1440.7L720.2 1438.7L720.7 1438.7L721.3 1439.7L721.8 1439.5L722.2 1438.1L722.7 1438.8L723.1 1438.6L723.6 1441.4L724.0 1439.3L724.5 1440.9L724.9 1442.0L725.4 1442.3L725.9 1442.2L726.3 1442.7L726.8 1440.4L727.3 1441.5L727.7 1441.4L728.2 1442.1L728.7 1444.2L729.1 1441.4L729.6 1443.6L730.1 1442.3L730.5 1444.8L731.0 1445.0L731.5 1443.5L732.0 1445.8L732.5 1444.4L733.0 1445.7L733.5 1445.0L734.0 1444.4L734.5 1444.7L735.0 1445.1L735.5 1446.0L736.0 1445.7L736.5 1447.3L737.0 1445.7L737.5 1445.6L738.0 1445.5L738.4 1445.5L738.9 1445.0L739.3 1445.5L739.8 1447.3L740.2 1446.7L740.8 1446.5L741.3 1447.1L741.8 1447.8L742.3 1447.5L742.7 1447.6L743.2 1446.4L743.6 1446.7L744.1 1446.2L744.6 1446.8L745.1 1446.1L745.7 1446.4L746.3 1446.5L747.0 1446.4L747.4 1446.3L747.8 1446.0L748.2 1447.6L748.6 1446.0L749.0 1445.3L749.4 1446.2L749.9 1445.0L750.3 1444.9L750.8 1445.8L751.2 1444.1L751.7 1443.8L752.2 1445.6L752.7 1446.1L753.2 1443.5L753.7 1444.1L754.2 1445.3L754.8 1443.0L755.3 1443.7L755.9 1443.3L756.5 1444.1L757.1 1442.5L757.7 1444.9L758.3 1443.8L758.9 1444.1L759.6 1443.5L760.0 1442.1L760.4 1443.6L760.9 1442.5L761.3 1443.7L761.8 1442.9L762.2 1443.3L762.7 1443.4L763.2 1444.3L763.7 1444.3L764.1 1442.7L764.6 1443.6L765.1 1444.9L765.7 1444.0L766.2 1442.9L766.7 1443.5L767.2 1443.3L767.7 1444.4L768.3 1443.6L768.8 1443.9L769.3 1445.2L769.9 1442.3L770.4 1442.7L771.0 1442.0L771.5 1442.1L772.0 1444.4L772.6 1443.8L773.1 1445.0L773.6 1441.9L774.2 1442.8L774.7 1444.8L775.2 1444.5L775.8 1444.3L776.3 1444.3L776.8 1443.5L777.3 1443.4L777.8 1443.4L778.3 1444.1L778.8 1443.2L779.3 1443.6L779.7 1444.6L780.2 1442.2L780.7 1442.5L781.3 1443.6L781.8 1442.7L782.3 1442.7L782.9 1444.4L783.4 1443.0L783.9 1442.2L784.4 1443.4L784.9 1443.9L785.4 1441.2L785.9 1441.5L786.4 1442.1L786.9 1441.2L787.4 1443.3L787.9 1442.0L788.4 1441.0L788.9 1441.7L789.4 1440.4L789.9 1440.4L790.4 1440.9L790.8 1442.3L791.3 1439.0L791.8 1440.8L792.3 1441.5L792.8 1440.9L793.2 1441.7L793.7 1440.4L794.2 1440.0L794.6 1439.6L795.1 1438.9L795.6 1441.0L796.0 1438.4L796.5 1439.2L796.9 1438.8L797.4 1438.5L798.0 1437.5L798.5 1438.7L799.0 1439.1L799.6 1439.1L800.1 1439.7L800.7 1438.7L801.2 1438.3L801.7 1439.1L802.2 1439.4L802.8 1438.0L803.3 1437.4L803.8 1437.8L804.3 1439.7L804.8 1439.7L805.3 1438.0L805.8 1438.9L806.3 1439.5L806.8 1440.0L807.3 1438.2L807.8 1438.5L808.3 1440.0L808.8 1440.4L809.3 1440.1L809.8 1437.7L810.3 1439.1L810.8 1438.4L811.3 1438.6L811.8 1438.0L812.3 1438.2L812.8 1438.5L813.4 1440.1L813.9 1439.1L814.4 1438.8L814.9 1438.4L815.5 1437.6L816.0 1438.1L816.5 1439.3L817.0 1438.9L817.5 1439.7L818.1 1438.3L818.6 1438.0L819.1 1436.5L819.6 1438.2L820.1 1436.2L820.6 1439.1L821.1 1437.1L821.6 1437.6L822.1 1436.3L822.6 1437.0L823.1 1436.5L823.6 1438.3L824.1 1437.5L824.6 1436.1L825.1 1435.4L825.6 1436.9L826.1 1436.5L826.6 1435.8L827.2 1437.2L827.7 1436.4L828.2 1436.6L828.7 1435.8L829.3 1435.7L829.8 1435.6L830.3 1434.5L830.8 1436.3L831.3 1436.0L831.9 1433.9L832.4 1435.4L832.9 1436.2L833.4 1435.3L833.9 1436.1L834.4 1434.6L834.9 1434.7L835.4 1433.4L835.9 1433.6L836.3 1432.7L836.8 1433.4L837.3 1434.4L837.8 1434.6L838.2 1435.1L838.7 1434.1L839.3 1433.1L839.8 1434.3L840.4 1433.8L840.9 1435.6L841.4 1435.6L841.9 1434.9L842.4 1433.0L842.9 1433.6L843.4 1434.3L843.9 1433.6L844.4 1434.8L844.9 1435.0L845.4 1435.3L845.9 1434.8L846.4 1433.9L846.9 1434.0L847.4 1434.8L847.9 1436.2L848.5 1436.5L849.0 1436.1L849.5 1435.6L850.0 1436.0L850.4 1436.3L850.9 1436.8L851.4 1436.6L851.9 1434.6L852.4 1437.0L852.9 1436.6L853.4 1436.1L853.9 1437.1L854.4 1437.1L854.9 1436.9L855.4 1435.6L855.9 1437.4L856.4 1437.9L856.9 1437.5L857.4 1436.2L857.9 1438.2L858.4 1438.5L858.9 1438.1L859.4 1438.4L859.9 1437.7L860.4 1437.4L860.9 1438.4L861.4 1437.6L861.9 1438.0L862.4 1439.4L862.9 1438.3L863.4 1437.7L863.9 1436.0L864.4 1437.4L864.9 1437.8L865.4 1436.4L865.9 1436.6L866.4 1435.0L866.9 1437.0L867.4 1435.8L867.9 1436.7L868.4 1437.1L868.9 1435.6L869.4 1436.4L869.9 1435.6L870.4 1435.0L870.9 1434.7L871.4 1434.0L871.9 1435.8L872.4 1435.2L872.9 1433.3L873.4 1434.8L873.8 1433.2L874.3 1432.3L874.8 1434.5L875.3 1432.1L875.7 1434.1L876.2 1433.0L876.7 1433.4L877.2 1432.8L877.6 1433.2L878.1 1432.3L878.6 1432.2L879.0 1431.7L879.5 1432.3L880.0 1430.8L880.5 1431.9L880.9 1432.1L881.4 1430.6L881.9 1430.9L882.3 1429.9L882.8 1429.9L883.3 1430.3L883.8 1429.6L884.3 1429.0L884.8 1429.7L885.3 1429.8L885.8 1429.8L886.3 1430.1L886.8 1427.8L887.3 1430.6L887.8 1429.1L888.3 1428.5L888.8 1428.8L889.3 1429.5L889.8 1429.8L890.3 1428.7L890.8 1429.2L891.3 1427.6L891.9 1429.2L892.4 1428.9L892.9 1428.7L893.5 1429.9L894.0 1430.8L894.4 1430.1L894.9 1428.6L895.4 1430.7L895.9 1429.2L896.4 1429.5L896.9 1429.2L897.4 1430.2L897.9 1430.5L898.4 1430.2L898.9 1430.1L899.4 1430.3L899.9 1430.2L900.5 1431.6L901.0 1430.4L901.5 1430.8L902.0 1430.9L902.5 1430.6L903.0 1431.2L903.5 1430.2L904.0 1431.9L904.5 1432.1L905.0 1431.4L905.5 1433.2L905.9 1431.1L906.4 1432.3L906.9 1432.2L907.4 1431.3L907.9 1431.5L908.4 1432.5L908.9 1431.6L909.4 1431.7L909.8 1432.6L910.3 1431.5L910.7 1429.6L911.2 1430.3L911.6 1431.6L912.1 1430.6L912.5 1429.6L913.0 1428.8L913.5 1430.5L913.9 1431.4L914.4 1428.8L914.9 1428.1L915.4 1430.0L916.0 1428.9L916.5 1429.0L917.1 1428.8L917.5 1428.2L918.0 1429.3L918.4 1429.6L918.9 1429.0L919.3 1428.0L919.8 1429.3L920.3 1428.2L920.7 1428.6L921.2 1427.1L921.7 1428.4L922.2 1428.4L922.7 1428.7L923.2 1427.5L923.7 1427.7L924.2 1426.6L924.7 1427.8L925.2 1427.6L925.7 1427.7L926.3 1426.3L926.8 1425.4L927.3 1426.3L927.8 1426.0L928.4 1425.4L928.9 1426.5L929.4 1426.7L930.0 1426.1L930.5 1426.7L931.0 1425.9L931.6 1424.6L932.1 1424.9L932.6 1425.0L933.1 1425.9L933.6 1426.0L934.1 1425.3L934.6 1426.0L935.1 1424.3L935.6 1424.9L936.1 1426.3L936.7 1425.4L937.2 1425.9L937.7 1423.3L938.3 1423.4L938.8 1424.1L939.4 1425.8L939.9 1426.3L940.4 1424.3L941.0 1423.9L941.5 1423.9L942.1 1424.0L942.6 1425.3L943.1 1424.5L943.6 1426.4L944.1 1425.4L944.7 1424.1L945.2 1424.9L945.6 1424.5L946.1 1425.3L946.6 1425.4L947.1 1424.2L947.5 1425.3L948.0 1425.0L948.4 1424.3L948.8 1424.6L949.2 1424.9L949.8 1423.9L950.4 1423.5L951.0 1425.1L951.5 1423.9L952.0 1423.2L952.5 1424.1L952.9 1422.2L953.4 1423.5L953.8 1422.1L954.2 1422.8L954.6 1421.4L955.0 1422.2L955.4 1423.5L955.8 1422.4L956.3 1421.3L956.7 1423.7L957.2 1421.3L957.7 1423.0L958.2 1420.9L958.8 1419.8L959.2 1422.5L959.6 1420.3L960.0 1421.2L960.4 1421.3L960.8 1418.9L961.3 1419.8L961.8 1419.0L962.2 1419.8L962.7 1418.9L963.2 1417.5L963.7 1418.4L964.2 1418.7L964.7 1417.5L965.2 1418.0L965.7 1416.7L966.1 1416.8L966.6 1416.9L967.1 1416.4L967.6 1417.1L968.1 1416.5L968.5 1416.1L969.0 1415.7L969.4 1414.9L969.9 1413.5L970.3 1415.1L970.7 1415.5L971.1 1413.9L971.4 1413.2L971.8 1413.2L972.1 1414.1L972.4 1413.0L972.7 1411.7L973.5 1411.8L974.1 1410.7L974.4 1410.7L974.7 1409.7L974.8 1409.3L975.0 1411.1L975.2 1410.5L975.5 1408.0L975.9 1408.5L976.3 1409.1L976.6 1409.2L977.0 1408.5L977.4 1410.7L977.8 1408.8L978.2 1411.1L978.6 1411.4L979.1 1410.8L979.6 1410.9L980.1 1411.9L980.6 1412.3L981.2 1410.9L981.8 1411.7L982.4 1413.6L982.8 1413.2L983.2 1413.1L983.6 1412.7L984.1 1413.2L984.5 1413.3L985.0 1415.8L985.5 1413.2L986.0 1415.9L986.5 1415.1L987.0 1415.1L987.5 1415.2L988.1 1414.9L988.6 1416.8L989.1 1416.0L989.6 1415.7L990.2 1415.8L990.7 1416.2L991.2 1415.2L991.7 1416.1L992.2 1415.9L992.7 1417.1L993.2 1417.2L993.6 1415.1L994.1 1416.6L994.7 1417.7L995.2 1415.8L995.7 1415.9L996.3 1417.9L996.8 1416.9L997.3 1416.6L997.8 1415.9L998.3 1417.1L998.8 1416.4L999.3 1417.0L999.7 1417.2L1000.2 1417.3L1000.7 1416.3L1001.2 1416.0L1001.7 1416.4L1002.2 1416.2L1002.7 1416.3L1003.3 1415.5L1003.8 1415.6L1004.2 1415.1L1004.7 1415.0L1005.1 1415.4L1005.6 1416.1L1006.1 1414.4L1006.5 1415.2L1007.0 1414.7L1007.4 1414.2L1007.9 1414.5L1008.4 1413.1L1008.9 1413.8L1009.3 1413.3L1009.8 1411.2L1010.3 1412.8L1010.7 1412.8L1011.2 1413.6L1011.7 1410.8L1012.2 1411.6L1012.6 1411.6L1013.1 1410.2L1013.6 1411.9L1014.0 1411.0L1014.5 1409.7L1015.0 1409.2L1015.5 1409.7L1015.9 1411.5L1016.4 1411.4L1016.9 1408.0L1017.3 1407.9L1017.8 1409.9L1018.3 1409.1L1018.7 1408.5L1019.2 1409.5L1019.6 1408.9L1020.1 1409.0L1020.6 1408.9L1021.1 1407.6L1021.6 1409.6L1022.1 1407.9L1022.6 1409.2L1023.1 1408.7L1023.6 1408.1L1024.1 1408.0L1024.6 1407.8L1025.2 1406.1L1025.6 1407.3L1026.1 1407.9L1026.6 1406.1L1027.0 1406.1L1027.5 1408.3L1028.0 1408.0L1028.5 1405.9L1029.0 1407.6L1029.5 1407.1L1030.1 1407.9L1030.6 1406.7L1031.1 1406.8L1031.6 1406.2L1032.2 1407.0L1032.7 1406.7L1033.2 1406.2L1033.7 1406.4L1034.2 1405.9L1034.8 1407.1L1035.3 1405.6L1035.8 1405.0L1036.3 1405.4L1036.8 1407.2L1037.3 1405.7L1037.7 1406.6L1038.2 1406.5L1038.7 1405.3L1039.1 1406.3L1039.6 1405.9L1040.1 1405.2L1040.6 1404.4L1041.1 1404.8L1041.5 1403.5L1042.0 1404.2L1042.5 1403.6L1042.9 1404.3L1043.3 1404.0L1043.8 1402.8L1044.2 1403.9L1044.7 1403.9L1045.1 1402.7L1045.5 1401.7L1045.9 1402.5L1046.4 1400.2L1046.8 1401.0L1047.2 1401.8L1047.6 1402.6L1048.1 1400.1L1048.5 1401.8L1048.9 1401.8L1049.4 1401.6L1049.8 1398.1L1050.2 1400.4L1050.7 1399.4L1051.2 1399.8L1051.6 1398.5L1052.1 1397.8L1052.5 1397.9L1053.0 1399.1L1053.4 1398.3L1053.9 1397.0L1054.4 1397.3L1054.8 1397.4L1055.3 1396.9L1055.7 1396.1L1056.2 1395.3L1056.6 1394.9L1057.1 1394.9L1057.5 1394.6L1058.0 1393.5L1058.4 1393.4L1058.8 1395.2L1059.3 1393.3L1059.7 1392.9L1060.1 1393.9L1060.5 1395.1L1061.1 1394.8L1061.6 1393.1L1062.1 1392.4L1062.6 1392.8L1063.1 1392.3L1063.6 1392.6L1064.0 1393.4L1064.5 1392.0L1065.0 1392.3L1065.5 1392.7L1065.9 1393.0L1066.4 1392.4L1066.9 1392.5L1067.4 1392.3L1067.9 1392.8L1068.4 1394.1L1069.0 1393.6L1069.4 1392.3L1069.8 1394.7L1070.2 1394.3L1070.6 1393.8L1071.0 1394.6L1071.4 1393.5L1071.8 1393.9L1072.3 1396.7L1072.7 1397.6L1073.1 1397.9L1073.6 1396.0L1074.0 1397.0L1074.5 1398.0L1074.9 1396.5L1075.3 1399.5L1075.8 1397.7L1076.2 1399.0L1076.6 1398.0L1077.0 1399.6L1077.5 1399.6L1077.9 1400.9L1078.3 1399.2L1078.6 1400.5L1079.0 1402.4L1079.4 1400.0L1079.7 1401.6L1080.3 1402.1L1080.8 1401.6L1081.2 1402.2L1081.7 1404.0L1082.1 1404.1L1082.5 1403.8L1082.9 1403.9L1083.3 1402.9L1083.7 1404.2L1084.1 1406.0L1084.5 1405.6L1084.9 1403.7L1085.4 1403.5L1085.9 1404.8L1086.4 1405.7L1086.8 1405.3L1087.3 1405.7L1087.7 1406.4L1088.2 1407.1L1088.7 1406.7L1089.2 1407.8L1089.7 1405.6L1090.2 1407.5L1090.7 1407.6L1091.2 1406.0L1091.7 1408.6L1092.2 1406.2L1092.8 1406.5L1093.3 1409.5L1093.8 1409.2L1094.3 1408.4L1094.7 1409.4L1095.2 1409.3L1095.7 1407.3L1096.1 1408.7L1096.7 1409.6L1097.2 1408.1L1097.7 1408.2L1098.2 1407.6L1098.7 1408.6L1099.2 1407.2L1099.6 1407.0L1100.1 1406.3L1100.6 1406.3L1101.0 1407.2L1101.5 1407.2L1102.0 1406.2L1102.5 1405.5L1103.0 1406.5L1103.5 1406.4L1104.0 1407.1L1104.5 1405.4L1105.0 1405.4L1105.5 1406.1L1106.0 1406.9L1106.5 1405.3L1107.1 1405.2L1107.6 1404.3L1108.1 1404.7L1108.7 1405.8L1109.2 1405.6L1109.7 1405.7L1110.2 1403.2L1110.7 1405.3L1111.2 1403.7L1111.6 1405.0L1112.1 1402.9L1112.6 1404.4L1113.2 1403.7L1113.6 1405.7L1114.1 1404.7L1114.5 1405.9L1114.9 1404.4L1115.3 1406.5L1115.7 1404.7L1116.2 1406.8L1116.7 1405.0L1117.2 1404.7L1117.8 1406.7L1118.5 1405.7L1118.9 1406.2L1119.3 1405.2L1119.7 1406.3L1120.1 1406.9L1120.5 1406.4L1121.0 1407.6L1121.4 1405.8L1121.9 1408.5L1122.4 1407.6L1122.9 1409.5L1123.4 1408.1L1123.9 1408.1L1124.4 1408.5L1124.9 1409.4L1125.4 1410.0L1125.9 1409.3L1126.4 1409.2L1126.9 1410.6L1127.4 1411.1L1127.9 1409.0L1128.4 1409.9L1128.9 1410.4L1129.4 1412.7L1129.8 1412.5L1130.3 1412.2L1130.8 1412.1L1131.4 1410.8L1131.9 1413.0L1132.4 1411.7L1132.9 1411.5L1133.4 1414.0L1133.9 1411.2L1134.4 1413.8L1134.9 1412.9L1135.4 1411.9L1135.9 1413.0L1136.4 1412.1L1136.9 1413.1L1137.4 1412.4L1137.9 1412.0L1138.4 1414.7L1138.9 1412.7L1139.4 1414.0L1139.9 1413.1L1140.5 1413.7L1141.0 1412.0L1141.5 1412.1L1141.9 1411.4L1142.4 1413.9L1142.9 1413.3L1143.4 1411.7L1143.9 1413.5L1144.4 1413.1L1144.9 1414.1L1145.4 1412.6L1145.9 1413.1L1146.4 1412.7L1146.9 1412.7L1147.4 1411.8L1147.9 1411.3L1148.4 1412.2L1148.9 1412.5L1149.4 1410.2L1149.9 1410.1L1150.4 1410.9L1150.9 1412.5L1151.4 1410.5L1151.9 1409.1L1152.3 1411.2L1152.8 1411.1L1153.3 1411.9L1153.9 1410.4L1154.4 1411.7L1154.9 1409.3L1155.4 1410.7L1155.9 1409.9L1156.4 1408.5L1156.9 1409.3L1157.4 1410.6L1157.8 1410.3L1158.3 1408.9L1158.8 1410.1L1159.3 1409.9L1159.8 1409.8L1160.3 1409.2L1160.8 1409.1L1161.3 1408.1L1161.9 1408.7L1162.4 1408.9L1162.9 1408.1L1163.5 1408.5L1164.0 1409.0L1164.4 1409.1L1164.9 1409.9L1165.4 1408.1L1165.9 1408.7L1166.4 1409.5L1167.0 1409.0L1167.5 1409.7L1168.0 1409.1L1168.6 1410.8L1169.1 1409.6L1169.6 1408.9L1170.2 1410.8L1170.7 1411.8L1171.2 1408.8L1171.7 1410.4L1172.3 1410.7L1172.8 1411.8L1173.3 1412.3L1173.7 1410.9L1174.2 1409.7L1174.7 1411.9L1175.1 1412.3L1175.5 1411.8L1175.9 1411.5L1176.3 1410.8L1177.0 1413.2L1177.6 1410.5L1178.1 1410.3L1178.6 1412.6L1179.0 1412.0L1179.4 1412.3L1179.7 1411.9L1180.2 1413.0L1180.6 1412.6L1181.2 1410.6L1181.9 1411.7L1182.7 1409.3L1183.0 1408.7L1183.3 1411.2L1183.7 1409.5L1184.1 1408.1L1184.4 1409.4L1184.8 1408.6L1185.2 1409.4L1185.7 1408.7L1186.1 1407.8L1186.5 1407.5L1187.0 1408.6L1187.4 1406.8L1187.9 1407.4L1188.3 1406.1L1188.8 1407.1L1189.3 1408.0L1189.8 1406.6L1190.2 1406.8L1190.7 1405.9L1191.2 1404.3L1191.7 1404.6L1192.2 1404.6L1192.6 1404.6L1193.1 1403.4L1193.6 1404.2L1194.0 1402.7L1194.5 1403.1L1194.9 1402.8L1195.3 1401.5L1195.8 1403.2L1196.2 1402.1L1196.6 1402.0L1197.0 1401.6L1197.3 1399.8L1197.7 1400.0L1198.3 1400.2L1198.9 1401.7L1199.5 1400.0L1200.0 1400.8L1200.6 1399.2L1201.1 1399.1L1201.5 1399.3L1202.0 1400.6L1202.5 1398.0L1202.9 1399.2L1203.4 1399.6L1203.8 1399.3L1204.3 1399.1L1204.8 1399.8L1205.2 1399.4L1205.7 1398.2L1206.2 1399.7L1206.7 1398.4L1207.3 1398.9L1207.7 1400.6L1208.2 1401.0L1208.6 1400.8L1209.1 1399.9L1209.6 1399.0L1210.0 1399.2L1210.5 1401.5L1211.0 1400.5L1211.5 1399.1L1212.0 1402.0L1212.5 1401.3L1213.0 1402.2L1213.4 1401.6L1213.9 1399.8L1214.4 1401.0L1214.9 1401.8L1215.4 1402.0L1215.9 1403.7L1216.4 1401.9L1216.8 1402.6L1217.3 1402.8L1217.8 1403.0L1218.2 1402.3L1218.7 1402.3L1219.1 1401.9L1219.7 1404.0L1220.2 1403.6L1220.7 1404.1L1221.2 1403.1L1221.7 1404.2L1222.2 1403.5L1222.7 1403.6L1223.2 1404.9L1223.7 1405.3L1224.1 1405.3L1224.6 1404.8L1225.1 1404.6L1225.6 1406.3L1226.1 1406.2L1226.6 1404.5L1227.1 1404.1L1227.6 1405.5L1228.1 1405.4L1228.7 1404.3L1229.1 1406.7L1229.6 1403.4L1230.1 1404.2L1230.5 1405.1L1231.0 1405.7L1231.5 1403.1L1232.0 1404.2L1232.5 1405.8L1233.0 1405.7L1233.5 1404.1L1234.0 1404.2L1234.5 1403.2L1235.0 1404.2L1235.5 1402.8L1236.0 1402.0L1236.5 1402.1L1237.0 1403.4L1237.5 1402.0L1238.0 1404.0L1238.5 1404.1L1239.0 1403.7L1239.5 1403.2L1240.0 1403.6L1240.5 1402.6L1241.0 1403.1L1241.5 1402.6L1242.0 1402.7L1242.5 1401.0L1242.9 1401.2L1243.4 1400.7L1243.9 1402.2L1244.4 1401.8L1244.9 1400.5L1245.4 1400.1L1245.9 1400.4L1246.3 1401.5L1246.8 1400.5L1247.3 1400.3L1247.8 1399.7L1248.3 1400.1L1248.8 1401.6L1249.3 1399.4L1249.8 1399.6L1250.3 1401.4L1250.8 1400.5L1251.3 1398.7L1251.8 1400.7L1252.3 1398.6L1252.8 1400.2L1253.3 1398.1L1253.8 1398.9L1254.3 1400.7L1254.8 1399.4L1255.3 1399.3L1255.8 1400.2L1256.3 1400.2L1256.8 1399.9L1257.3 1399.9L1257.9 1402.2L1258.4 1402.1L1258.9 1401.2L1259.4 1400.0L1259.9 1400.7L1260.4 1401.0L1261.0 1401.8L1261.5 1403.0L1262.0 1401.1L1262.5 1401.8L1263.0 1401.4L1263.6 1402.0L1264.1 1401.3L1264.6 1402.2L1265.1 1403.0L1265.6 1401.5L1266.1 1401.6L1266.6 1401.9L1267.1 1400.6L1267.6 1403.3L1268.1 1400.4L1268.6 1401.2L1269.1 1400.7L1269.6 1402.7L1270.1 1400.8L1270.6 1400.7L1271.1 1402.7L1271.6 1400.8L1272.1 1400.1L1272.6 1400.7L1273.1 1400.7L1273.6 1399.7L1274.1 1400.1L1274.6 1400.0L1275.1 1400.7L1275.6 1400.6L1276.1 1400.5L1276.6 1399.5L1277.0 1400.2L1277.5 1399.1L1278.0 1400.3L1278.5 1399.4L1279.0 1398.5L1279.5 1399.9L1280.1 1397.3L1280.6 1397.6L1281.1 1397.6L1281.7 1398.0L1282.2 1396.9L1282.7 1396.7L1283.2 1396.0L1283.8 1397.6L1284.3 1396.6L1284.8 1398.8L1285.3 1397.7L1285.8 1395.8L1286.3 1397.8L1286.8 1396.6L1287.2 1397.3L1287.7 1395.2L1288.1 1397.1L1288.5 1396.9L1288.9 1395.3L1289.3 1394.8L1289.7 1395.1L1290.0 1395.5L1290.8 1396.6L1291.4 1396.2L1292.0 1395.5L1292.4 1393.6L1292.7 1393.2L1293.0 1393.6L1293.3 1392.8L1293.6 1392.5L1294.0 1392.7L1294.3 1393.8L1294.6 1393.2L1294.8 1393.8L1295.0 1393.8L1295.3 1394.3L1295.6 1394.6L1296.0 1396.5L1296.5 1396.0L1297.2 1397.5L1297.5 1396.1L1297.9 1397.3L1298.4 1395.2L1298.8 1396.2L1299.3 1396.6L1299.8 1396.2L1300.3 1396.8L1300.8 1396.4L1301.4 1396.9L1302.0 1396.7L1302.5 1397.2L1303.1 1397.1L1303.7 1396.8L1304.3 1397.2L1304.8 1397.6L1305.4 1396.9L1306.0 1397.9L1306.5 1398.7L1307.0 1397.9L1307.5 1398.5L1308.0 1398.7L1308.4 1398.0L1308.9 1399.5L1309.5 1400.0L1310.0 1398.5L1310.4 1400.5L1310.9 1399.2L1311.4 1400.8L1311.8 1399.1L1312.2 1401.1L1312.7 1400.8L1313.1 1400.2L1313.5 1400.8L1313.9 1401.0L1314.2 1401.4L1314.6 1402.5L1315.0 1402.5L1315.3 1401.9L1315.7 1403.1L1316.0 1403.9L1316.3 1404.1L1316.6 1405.5L1316.9 1403.8L1317.2 1405.4L1317.5 1405.7L1317.7 1406.5L1318.0 1405.7L1318.3 1406.2L1318.5 1407.4L1318.7 1408.0L1319.0 1407.3L1319.2 1409.1L1319.5 1409.3L1319.7 1410.3L1320.0 1409.2L1320.2 1411.1L1320.5 1410.8L1320.7 1411.4L1321.0 1412.6L1321.2 1413.6L1321.4 1413.1L1321.6 1413.4L1321.9 1414.7L1322.1 1413.8L1322.3 1414.6L1322.6 1414.9L1322.8 1415.0L1323.0 1416.2L1323.2 1417.6L1323.5 1417.2L1323.7 1417.8L1323.9 1417.9L1324.2 1419.1L1324.4 1419.0L1324.6 1418.9L1324.8 1420.0L1325.1 1421.3L1325.3 1421.0L1325.5 1422.1L1325.7 1421.8L1325.8 1423.4L1326.0 1422.7L1326.2 1423.2L1326.4 1423.6L1326.5 1424.1L1326.7 1424.6L1326.9 1425.0L1327.1 1425.5L1327.3 1426.0L1327.4 1426.5L1327.6 1427.0L1327.8 1427.5L1328.0 1427.9L1328.1 1428.4L1328.3 1428.9L1328.5 1429.4L1328.7 1429.9L1328.9 1430.4L1329.0 1430.9L1329.2 1431.4L1329.4 1431.9L1329.6 1432.4L1329.7 1432.8L1329.9 1433.3L1330.1 1433.8L1330.3 1434.3L1330.5 1434.8L1330.6 1435.2L1330.8 1435.7L1331.0 1436.2L1331.2 1436.7L1331.3 1437.2L1331.5 1437.6L1331.7 1438.1L1331.9 1438.6L1332.1 1439.1L1332.2 1439.6L1332.4 1440.1L1332.6 1440.5L1332.8 1441.0L1332.9 1441.5L1333.1 1442.0L1333.3 1442.5L1333.5 1442.9L1333.7 1443.4L1333.8 1443.9L1334.0 1444.3L1334.2 1444.8L1334.4 1445.2L1334.5 1445.7L1334.7 1446.2L1334.9 1446.6L1335.1 1447.3L1335.3 1448.0L1335.5 1447.9L1335.7 1449.1L1335.9 1448.9L1336.1 1448.7L1336.3 1450.2L1336.5 1449.8L1336.7 1451.9L1336.9 1451.9L1337.1 1451.9L1337.3 1452.8L1337.5 1451.8L1337.7 1454.3L1337.9 1453.4L1338.1 1454.6L1338.3 1455.8L1338.5 1454.2L1338.7 1455.3L1338.9 1456.2L1339.1 1456.7L1339.3 1455.9L1339.5 1456.8L1339.7 1458.7L1339.9 1457.9L1340.2 1459.1L1340.4 1458.5L1340.6 1459.2L1340.8 1459.2L1341.0 1460.9L1341.2 1461.9L1341.5 1461.7L1341.7 1462.0L1341.9 1462.8L1342.1 1463.4L1342.3 1463.4L1342.6 1464.3L1342.8 1465.5L1343.0 1466.0L1343.2 1465.0L1343.5 1465.0L1343.7 1467.3L1344.0 1467.2L1344.2 1467.8L1344.5 1467.9L1344.8 1467.8L1345.1 1468.7L1345.4 1469.2L1345.7 1469.7L1345.9 1469.2L1346.2 1470.4L1346.6 1470.3L1346.9 1470.7L1347.2 1471.4L1347.5 1471.5L1347.8 1472.7L1348.1 1472.7L1348.5 1472.9L1348.8 1473.1L1349.1 1473.7L1349.5 1473.9L1349.8 1474.6L1350.2 1475.1L1350.5 1475.4L1350.9 1475.0L1351.2 1475.7L1351.6 1476.3L1351.9 1476.1L1352.3 1477.1L1352.6 1477.3L1353.0 1477.7L1353.4 1478.2L1353.7 1478.2L1354.1 1479.4L1354.5 1479.6L1354.8 1479.3L1355.2 1480.1L1355.6 1480.5L1356.0 1480.3L1356.4 1480.8L1356.8 1481.5L1357.2 1480.9L1357.7 1481.3L1358.1 1482.3L1358.5 1482.7L1359.0 1482.3L1359.4 1483.3L1359.8 1483.9L1360.3 1483.5L1360.7 1483.6L1361.1 1483.8L1361.6 1483.6L1362.0 1484.4L1362.5 1484.4L1362.9 1484.8L1363.4 1485.3L1363.9 1484.9L1364.3 1485.1L1364.8 1485.3L1365.3 1486.0L1365.8 1485.0L1366.3 1485.7L1366.9 1485.6L1367.4 1486.0L1367.9 1486.4L1368.5 1486.3L1369.0 1486.7L1369.6 1486.6L1370.2 1486.4L1370.6 1486.6L1371.0 1486.4L1371.4 1487.1L1371.8 1487.0L1372.2 1487.6L1372.6 1487.7L1373.0 1487.1L1373.4 1487.1L1373.8 1487.9L1374.2 1487.4L1374.7 1487.9L1375.1 1488.2L1375.5 1487.9L1375.9 1488.8L1376.3 1487.9L1376.8 1488.5L1377.2 1488.3L1377.7 1487.8L1378.2 1488.5L1378.7 1488.6L1379.2 1489.0L1379.7 1488.8L1380.3 1488.7L1380.8 1488.8L1381.4 1489.0L1382.0 1489.4L1382.7 1489.1L1383.3 1489.8L1384.0 1489.7L1384.7 1489.1L1385.4 1489.8L1386.2 1488.8L1386.6 1489.5L1387.0 1489.2L1387.4 1489.5L1387.8 1490.0L1388.2 1489.6L1388.6 1489.6L1389.0 1490.1L1389.4 1489.4L1389.9 1489.4L1390.3 1490.1L1390.8 1489.9L1391.2 1489.2L1391.7 1489.8L1392.2 1490.0L1392.7 1489.7L1393.1 1489.6L1393.6 1489.8L1394.1 1489.9L1394.6 1489.5L1395.1 1490.1L1395.6 1489.2L1396.1 1489.8L1396.7 1490.5L1397.2 1489.4L1397.7 1489.8L1398.2 1489.2L1398.8 1489.5L1399.3 1489.4L1399.8 1489.9L1400.4 1489.7L1400.9 1490.5L1401.5 1489.5L1402.0 1489.9L1402.5 1490.0L1403.1 1490.1L1403.6 1490.2L1404.2 1489.3L1404.7 1490.5L1405.3 1489.8L1405.8 1489.6L1406.4 1489.2L1406.9 1489.7L1407.5 1489.2L1408.0 1489.9L1408.6 1489.6L1409.1 1490.0L1409.7 1489.6L1410.2 1489.9L1410.8 1490.5L1411.3 1490.3L1411.9 1489.9L1412.4 1489.5L1412.9 1490.4L1413.5 1489.2L1414.0 1489.3L1414.5 1490.3L1415.0 1489.6L1415.6 1490.3L1416.1 1490.0L1416.6 1490.5L1417.1 1490.5L1417.6 1490.0L1418.1 1489.6L1418.6 1490.0L1419.0 1490.3L1419.5 1489.9L1420.0 1489.1L1420.5 1489.7L1421.1 1489.7L1421.6 1489.8L1422.1 1489.7L1422.6 1490.2L1423.1 1489.3L1423.6 1489.9L1424.1 1489.1L1424.6 1489.1L1425.1 1489.4L1425.6 1489.5L1426.1 1489.4L1426.6 1489.5L1427.0 1490.0L1427.5 1490.0L1428.0 1489.8L1428.5 1489.8L1428.9 1489.5L1429.4 1489.3L1429.8 1489.2L1430.3 1489.5L1430.8 1489.3L1431.2 1489.6L1431.7 1490.0L1432.1 1489.9L1432.6 1490.2L1433.1 1489.3L1433.5 1489.0L1434.0 1489.2L1434.4 1490.3L1434.9 1489.9L1435.4 1489.4L1435.8 1490.1L1436.3 1489.4L1436.8 1490.2L1437.3 1489.4L1437.7 1489.4L1438.2 1489.8L1438.7 1489.1L1439.2 1489.4L1439.7 1490.2L1440.2 1489.6L1440.7 1489.0L1441.2 1489.4L1441.8 1489.4L1442.3 1489.1L1442.8 1489.6L1443.4 1489.9L1443.9 1489.4L1444.5 1489.7L1445.0 1489.4L1445.6 1489.4L1446.2 1489.0L1446.8 1489.6L1447.4 1489.8L1448.0 1489.1L1448.6 1488.9L1449.2 1489.4L1449.6 1489.2L1450.0 1489.6L1450.5 1489.3L1450.9 1489.1L1451.3 1488.6L1451.8 1489.3L1452.2 1489.1L1452.7 1488.6L1453.1 1488.5L1453.6 1488.4L1454.0 1489.3L1454.5 1488.8L1455.0 1488.3L1455.4 1488.6L1455.9 1488.7L1456.4 1488.9L1456.8 1488.9L1457.3 1488.8L1457.8 1489.1L1458.3 1489.2L1458.8 1488.7L1459.2 1489.4L1459.7 1488.7L1460.2 1488.4L1460.7 1488.8L1461.2 1488.2L1461.7 1488.6L1462.2 1488.3L1462.7 1488.5L1463.2 1488.7L1463.7 1487.9L1464.2 1488.7L1464.8 1488.7L1465.3 1488.4L1465.8 1488.8L1466.3 1488.6L1466.8 1488.3L1467.3 1488.1L1467.8 1488.7L1468.4 1488.7L1468.9 1487.8L1469.4 1488.1L1469.9 1487.9L1470.5 1488.6L1471.0 1488.1L1471.5 1487.8L1472.0 1488.8L1472.6 1488.4L1473.1 1488.3L1473.6 1488.2L1474.2 1488.1L1474.7 1488.1L1475.2 1488.4L1475.7 1488.2L1476.3 1487.9L1476.8 1488.0L1477.3 1488.7L1477.9 1487.7L1478.4 1487.4L1478.9 1488.0L1479.5 1487.5L1480.0 1488.6L1480.5 1488.1L1481.1 1488.0L1481.6 1487.9L1482.1 1488.5L1482.6 1487.4L1483.2 1487.7L1483.7 1487.1L1484.2 1488.2L1484.7 1487.6L1485.3 1488.3L1485.8 1487.5L1486.3 1487.2L1486.8 1487.3L1487.4 1487.9L1487.9 1487.2L1488.4 1487.6L1488.9 1487.2L1489.4 1487.2L1489.9 1487.3L1490.5 1488.1L1491.0 1487.0L1491.5 1487.6L1492.0 1487.7L1492.5 1487.1L1493.0 1486.8L1493.5 1488.0L1494.0 1488.0L1494.5 1487.3L1495.0 1486.9L1495.5 1487.7L1496.0 1487.3L1496.6 1487.0L1497.1 1487.1L1497.6 1486.6L1498.1 1487.0L1498.6 1486.8L1499.2 1486.7L1499.7 1487.5L1500.2 1487.3L1500.7 1487.9L1501.2 1486.5L1501.8 1486.9L1502.3 1486.9L1502.8 1487.7L1503.3 1487.6L1503.9 1487.2L1504.4 1487.2L1504.9 1486.9L1505.5 1486.9L1506.0 1487.0L1506.5 1486.5L1507.1 1487.8L1507.6 1487.4L1508.1 1487.8L1508.6 1487.6L1509.2 1487.3L1509.7 1487.4L1510.2 1486.4L1510.8 1486.7L1511.3 1487.4L1511.8 1486.9L1512.3 1486.4L1512.9 1487.1L1513.4 1486.6L1513.9 1487.0L1514.5 1487.6L1515.0 1486.6L1515.5 1486.9L1516.0 1487.2L1516.5 1487.0L1517.1 1487.1L1517.6 1486.7L1518.1 1486.9L1518.6 1486.3L1519.1 1486.9L1519.7 1487.5L1520.2 1486.5L1520.7 1486.9L1521.2 1487.2L1521.7 1487.4L1522.2 1487.4L1522.7 1486.6L1523.2 1486.8L1523.7 1487.6L1524.2 1486.8L1524.7 1487.0L1525.2 1486.6L1525.7 1486.7L1526.2 1486.2L1526.7 1486.7L1527.2 1486.2L1527.6 1486.5L1528.1 1486.5L1528.6 1487.4L1529.1 1487.2L1529.6 1487.0L1530.0 1486.6L1530.5 1486.3L1531.0 1487.0L1531.4 1486.5L1531.9 1486.8L1532.3 1487.2L1532.8 1486.7L1533.2 1486.8L1533.7 1486.4L1534.1 1487.2L1534.6 1487.0L1535.0 1487.0L1535.4 1487.4L1535.9 1486.1L1536.3 1486.7L1536.7 1486.9L1537.3 1486.8L1537.9 1486.8L1538.5 1486.8L1539.1 1486.0L1539.7 1486.6L1540.3 1487.0L1540.9 1486.5L1541.5 1486.4L1542.0 1486.8L1542.6 1485.8L1543.1 1486.6L1543.7 1487.0L1544.2 1486.3L1544.8 1486.1L1545.3 1486.6L1545.8 1486.2L1546.3 1486.0L1546.8 1486.3L1547.3 1485.6L1547.8 1486.5L1548.3 1485.7L1548.8 1486.0L1549.3 1486.4L1549.8 1486.1L1550.3 1486.2L1550.8 1486.6L1551.3 1486.6L1551.7 1486.7L1552.2 1485.8L1552.7 1486.3L1553.1 1485.3L1553.6 1486.2L1554.1 1486.4L1554.5 1485.6L1555.0 1486.0L1555.5 1486.1L1555.9 1485.7L1556.4 1485.5L1556.9 1486.3L1557.3 1485.2L1557.8 1485.7L1558.2 1486.0L1558.7 1485.7L1559.2 1486.2L1559.6 1486.1L1560.1 1485.7L1560.6 1486.2L1561.0 1485.7L1561.5 1485.0L1562.0 1485.3L1562.5 1485.5L1562.9 1485.4L1563.4 1484.7L1563.9 1486.0L1564.4 1484.7L1564.9 1484.8L1565.4 1485.4L1565.9 1485.3L1566.4 1485.8L1566.9 1485.2L1567.4 1485.3L1567.9 1485.4L1568.4 1484.8L1568.9 1484.5L1569.4 1484.8L1569.9 1485.4L1570.4 1484.9L1570.8 1485.4L1571.3 1484.7L1571.8 1485.2L1572.3 1484.9L1572.8 1485.2L1573.3 1484.8L1573.8 1484.9L1574.2 1484.6L1574.7 1485.2L1575.2 1484.7L1575.7 1484.9L1576.2 1484.9L1576.6 1484.3L1577.1 1484.3L1577.6 1484.6L1578.1 1485.1L1578.6 1484.2L1579.1 1484.1L1579.6 1484.1L1580.0 1484.3L1580.5 1484.1L1581.0 1484.1L1581.5 1484.6L1582.0 1484.0L1582.5 1484.4L1583.0 1483.9L1583.5 1484.2L1584.0 1484.5L1584.5 1483.6L1585.0 1484.3L1585.5 1484.3L1586.0 1484.2L1586.5 1484.3L1587.0 1484.3L1587.5 1483.6L1588.1 1484.1L1588.6 1484.3L1589.1 1484.6L1589.6 1483.5L1590.2 1483.8L1590.7 1483.5L1591.2 1484.0L1591.8 1483.5L1592.3 1483.5L1592.9 1484.2L1593.4 1484.6L1594.0 1483.2L1594.5 1484.5L1595.1 1483.4L1595.6 1484.0L1596.0 1483.9L1596.5 1484.2L1596.9 1483.6L1597.4 1483.4L1597.8 1483.7L1598.3 1484.0L1598.8 1483.3L1599.3 1483.8L1599.7 1483.6L1600.2 1483.6L1600.7 1483.6L1601.2 1483.8L1601.6 1483.8L1602.1 1483.4L1602.6 1483.3L1603.1 1482.8L1603.6 1483.1L1604.1 1482.8L1604.6 1483.7L1605.1 1483.0L1605.6 1483.1L1606.1 1483.6L1606.6 1483.7L1607.1 1483.8L1607.6 1483.0L1608.1 1483.4L1608.6 1483.7L1609.1 1482.9L1609.6 1483.1L1610.1 1482.7L1610.6 1482.9L1611.1 1483.4L1611.6 1483.2L1612.1 1483.0L1612.6 1482.9L1613.2 1483.7L1613.7 1483.4L1614.2 1482.6L1614.7 1483.7L1615.2 1482.8L1615.7 1482.9L1616.2 1482.8L1616.8 1482.7L1617.3 1483.2L1617.8 1482.3L1618.3 1482.9L1618.8 1482.7L1619.3 1483.5L1619.9 1483.0L1620.4 1483.0L1620.9 1483.0L1621.4 1483.0L1621.9 1482.8L1622.4 1482.0L1622.9 1482.9L1623.5 1482.5L1624.0 1482.9L1624.5 1482.7L1625.0 1482.4L1625.5 1482.2L1626.0 1482.2L1626.5 1482.6L1627.1 1482.5L1627.6 1482.2L1628.1 1482.3L1628.6 1482.6L1629.1 1482.2L1629.6 1482.3L1630.1 1482.1L1630.6 1481.7L1631.1 1482.4L1631.6 1482.3L1632.1 1482.6L1632.6 1482.7L1633.1 1481.9L1633.6 1482.4L1634.1 1482.3L1634.6 1482.2L1635.1 1482.4L1635.6 1482.4L1636.1 1481.6L1636.6 1482.6L1637.1 1481.9L1637.7 1481.7L1638.2 1481.7L1638.7 1481.8L1639.2 1481.5L1639.7 1482.3L1640.2 1482.0L1640.7 1481.4L1641.2 1482.1L1641.7 1481.8L1642.2 1481.7L1642.7 1482.0L1643.3 1481.6L1643.8 1481.5L1644.3 1481.8L1644.8 1480.9L1645.3 1481.1L1645.8 1481.7L1646.3 1481.9L1646.8 1480.8L1647.3 1481.4L1647.8 1481.1L1648.4 1481.2L1648.9 1481.5L1649.4 1481.8L1649.9 1481.9L1650.4 1481.6L1650.9 1481.4L1651.4 1481.2L1651.9 1480.4L1652.4 1481.2L1652.9 1480.6L1653.4 1480.6L1653.9 1481.0L1654.4 1480.3L1654.9 1481.6L1655.4 1481.1L1655.9 1481.0L1656.4 1481.0L1656.9 1480.9L1657.4 1480.8L1657.9 1481.0L1658.4 1480.4L1658.9 1480.8L1659.4 1480.7L1659.9 1480.9L1660.4 1480.1L1660.9 1480.6L1661.4 1480.4L1661.9 1480.7L1662.4 1480.6L1662.8 1480.5L1663.3 1480.6L1663.8 1480.5L1664.3 1480.8L1664.8 1480.4L1665.3 1480.5L1665.7 1479.9L1666.2 1480.1L1666.7 1480.5L1667.2 1480.6L1667.6 1479.8L1668.1 1480.1L1668.6 1480.0L1669.2 1480.1L1669.7 1479.8L1670.2 1479.8L1670.7 1479.9L1671.1 1480.0L1671.6 1480.3L1672.1 1479.5L1672.5 1479.5L1673.0 1480.1L1673.4 1480.0L1673.9 1479.7L1674.3 1479.3L1674.7 1480.1L1675.1 1479.3L1675.5 1480.1L1675.9 1479.7L1676.4 1479.5L1676.8 1479.5L1677.2 1479.9L1677.6 1479.5L1677.9 1478.8L1678.3 1479.2L1678.7 1478.8L1679.1 1479.6L1679.5 1479.7L1679.9 1479.8L1680.3 1478.8L1680.7 1480.0L1681.2 1480.0L1681.6 1479.2L1682.0 1478.6L1682.4 1478.9L1682.8 1479.6L1683.3 1479.9L1683.7 1478.9L1684.1 1478.4L1684.6 1478.7L1685.1 1479.8L1685.5 1479.0L1686.0 1478.5L1686.5 1478.3L1687.0 1479.2L1687.5 1479.3L1688.0 1478.7L1688.6 1478.8L1689.1 1478.9L1689.7 1478.7L1690.2 1478.6L1690.8 1478.6L1691.4 1478.5L1692.0 1479.2L1692.7 1478.9L1693.3 1479.1L1694.0 1479.3L1694.7 1477.9L1695.4 1478.6L1696.1 1478.9L1696.8 1478.4L1697.6 1478.3L1698.4 1478.6L1699.2 1478.2L1700.0 1478.1L1700.4 1478.3L1700.7 1478.4L1701.1 1478.4L1701.5 1478.7L1701.8 1478.3L1702.2 1478.1L1702.6 1479.0L1703.0 1478.2L1703.4 1478.2L1703.8 1478.2L1704.2 1478.0L1704.6 1477.6L1705.0 1478.3L1705.4 1478.7L1705.8 1477.5L1706.2 1477.9L1706.6 1478.3L1707.1 1477.9L1707.5 1478.3L1707.9 1478.1L1708.3 1477.7L1708.8 1478.0L1709.2 1477.9L1709.6 1478.2L1710.1 1477.3L1710.5 1478.2L1711.0 1478.5L1711.4 1478.0L1711.9 1478.1L1712.3 1477.7L1712.8 1478.1L1713.3 1477.9L1713.7 1477.4L1714.2 1477.4L1714.7 1477.2L1715.1 1478.0L1715.6 1477.9L1716.1 1478.2L1716.6 1477.9L1717.0 1478.0L1717.5 1477.3L1718.0 1477.1L1718.5 1477.5L1719.0 1477.6L1719.5 1477.8L1720.0 1477.6L1720.5 1477.6L1721.0 1477.7L1721.5 1477.7L1722.0 1477.7L1722.5 1477.7L1723.0 1477.4L1723.5 1477.5L1724.0 1477.0L1724.5 1477.1L1725.0 1477.4L1725.5 1477.7L1726.0 1477.2L1726.6 1476.9L1727.1 1477.8L1727.6 1477.1L1728.1 1476.8L1728.6 1477.0L1729.2 1476.9L1729.7 1476.7L1730.2 1477.2L1730.7 1478.0L1731.3 1477.0L1731.8 1477.0L1732.3 1477.7L1732.9 1477.3L1733.4 1477.2L1733.9 1477.7L1734.5 1476.8L1735.0 1477.2L1735.5 1477.4L1736.1 1477.2L1736.6 1476.7L1737.2 1476.8L1737.7 1477.8L1738.2 1477.1L1738.8 1477.0L1739.3 1477.5L1739.9 1476.4L1740.4 1477.0L1741.0 1476.3L1741.5 1477.5L1742.1 1476.6L1742.6 1477.0L1743.1 1476.6L1743.7 1477.0L1744.2 1477.0L1744.8 1476.9L1745.3 1476.7L1745.9 1476.9L1746.4 1476.7L1747.0 1476.6L1747.5 1477.0L1748.1 1477.1L1748.6 1476.2L1749.2 1476.4L1749.7 1476.4L1750.2 1476.8L1750.8 1476.2L1751.3 1477.3L1751.9 1476.7L1752.4 1476.7L1753.0 1477.0L1753.5 1476.3L1754.1 1476.7L1754.6 1476.7L1755.2 1477.0L1755.7 1476.1L1756.2 1477.0L1756.8 1476.7L1757.3 1476.6L1757.9 1476.9L1758.4 1476.4L1758.9 1476.4L1759.5 1476.7L1760.0 1476.3L1760.5 1476.8L1761.1 1476.9L1761.6 1476.4L1762.1 1476.4L1762.7 1476.1L1763.2 1476.0L1763.7 1476.8L1764.3 1475.9L1764.8 1476.3L1765.3 1476.4L1765.8 1475.9L1766.4 1475.9L1766.9 1475.9L1767.4 1476.9L1767.9 1476.3L1768.4 1476.7L1768.9 1476.8L1769.5 1476.5L1770.0 1476.6L1770.5 1475.9L1771.0 1475.8L1771.5 1476.6L1772.0 1476.6L1772.5 1475.6L1773.0 1476.4L1773.5 1476.1L1774.0 1476.3L1774.5 1476.3L1775.0 1476.6L1775.5 1475.7L1776.0 1475.9L1776.5 1476.4L1777.0 1475.8L1777.5 1476.1L1778.0 1475.8L1778.5 1475.2L1779.0 1475.6L1779.5 1476.1L1780.0 1475.6L1780.5 1475.2L1781.0 1475.6L1781.6 1475.8L1782.1 1475.9L1782.6 1475.8L1783.1 1475.9L1783.6 1475.3L1784.1 1475.4L1784.6 1475.4L1785.1 1475.5L1785.6 1475.8L1786.1 1476.1L1786.6 1475.5L1787.1 1476.0L1787.6 1476.0L1788.1 1475.1L1788.6 1475.2L1789.1 1475.6L1789.6 1475.0L1790.1 1476.1L1790.6 1474.8L1791.1 1475.0L1791.6 1475.7L1792.1 1475.1L1792.6 1475.7L1793.1 1475.0L1793.6 1475.8L1794.1 1475.1L1794.6 1475.6L1795.1 1475.7L1795.6 1474.7L1796.1 1474.9L1796.6 1474.6L1797.1 1474.8L1797.6 1475.6L1798.1 1475.2L1798.6 1475.5L1799.1 1475.7L1799.6 1475.6L1800.2 1475.4L1800.7 1475.0L1801.2 1475.0L1801.7 1475.2L1802.2 1475.4L1802.7 1475.5L1803.2 1475.2L1803.7 1474.9L1804.2 1475.0L1804.7 1475.7L1805.2 1475.1L1805.7 1475.7L1806.2 1474.7L1806.7 1475.3L1807.2 1475.0L1807.7 1475.2L1808.2 1474.6L1808.7 1475.0L1809.2 1474.9L1809.7 1474.8L1810.2 1474.4L1810.7 1474.3L1811.2 1474.7L1811.7 1475.0L1812.2 1474.9L1812.7 1474.9L1813.2 1474.9L1813.7 1474.2L1814.2 1475.1L1814.7 1474.7L1815.2 1474.4L1815.7 1474.5L1816.2 1475.1L1816.7 1474.7L1817.2 1474.0L1817.7 1475.3L1818.2 1474.1L1818.7 1475.3L1819.3 1474.9L1819.8 1474.2L1820.3 1475.0L1820.8 1475.0L1821.3 1474.9L1821.8 1474.8L1822.3 1474.6L1822.8 1474.6L1823.3 1474.3L1823.8 1474.6L1824.3 1474.9L1824.8 1474.4L1825.3 1475.1L1825.8 1473.8L1826.3 1474.4L1826.8 1473.8L1827.3 1473.7L1827.8 1474.4L1828.3 1474.2L1828.8 1474.1L1829.3 1473.9L1829.8 1474.2L1830.3 1473.6L1830.8 1474.2L1831.3 1474.0L1831.8 1473.7L1832.3 1474.4L1832.8 1473.5L1833.3 1474.3L1833.8 1474.3L1834.3 1474.3L1834.8 1474.2L1835.3 1474.4L1835.8 1474.0L1836.3 1473.7L1836.8 1474.2L1837.3 1473.8L1837.9 1473.9L1838.4 1474.1L1838.9 1473.7L1839.4 1474.4L1839.9 1473.4L1840.4 1474.4L1840.9 1473.9L1841.4 1474.6L1841.9 1474.3L1842.4 1474.2L1842.9 1474.0L1843.4 1473.9L1843.9 1473.4L1844.4 1473.6L1844.9 1473.5L1845.4 1473.6L1845.9 1473.8L1846.4 1473.5L1846.9 1473.8L1847.4 1473.7L1847.9 1473.6L1848.4 1473.9L1848.9 1473.9L1849.4 1473.2L1849.9 1473.6L1850.4 1474.4L1850.9 1473.7L1851.4 1473.8L1851.9 1473.3L1852.4 1474.0L1852.9 1474.2L1853.4 1473.8L1853.9 1473.5L1854.4 1473.6L1854.9 1472.9L1855.4 1473.8L1855.9 1473.4L1856.4 1473.7L1857.0 1473.7L1857.5 1473.6L1858.0 1474.2L1858.5 1473.8L1859.0 1473.2L1859.5 1473.7L1860.0 1473.7L1860.5 1473.4L1861.0 1473.9L1861.5 1473.3L1862.0 1472.7L1862.5 1473.0L1863.0 1473.5L1863.5 1473.0L1864.0 1473.4L1864.5 1472.7L1865.0 1473.4L1865.5 1473.2L1866.1 1472.9L1866.6 1473.0L1867.1 1473.1L1867.6 1473.6L1868.1 1473.3L1868.6 1473.1L1869.1 1473.3L1869.6 1473.5L1870.1 1473.3L1870.6 1473.8L1871.1 1472.9L1871.6 1473.4L1872.1 1473.2L1872.6 1472.9L1873.1 1473.3L1873.7 1473.4L1874.2 1473.4L1874.7 1473.2L1875.2 1472.7L1875.7 1473.1L1876.2 1473.2L1876.7 1473.6L1877.2 1473.0L1877.7 1473.0L1878.2 1473.5L1878.7 1473.0L1879.2 1472.8L1879.7 1473.0L1880.2 1473.2L1880.7 1472.9L1881.2 1472.2L1881.8 1472.7L1882.3 1473.2L1882.8 1472.6L1883.3 1473.2L1883.8 1472.9L1884.3 1472.5L1884.8 1473.1L1885.3 1472.1L1885.8 1472.1L1886.3 1472.2L1886.8 1472.9L1887.3 1472.6L1887.8 1473.0L1888.3 1472.7L1888.8 1472.7L1889.3 1472.5L1889.8 1472.5L1890.3 1473.0L1890.8 1472.9L1891.3 1472.1L1891.8 1472.8L1892.3 1473.3L1892.8 1472.9L1893.3 1472.2L1893.8 1472.8L1894.3 1472.6L1894.8 1472.4L1895.3 1472.9L1895.8 1473.0L1896.3 1472.3L1896.8 1472.5L1897.3 1472.3L1897.8 1472.5L1898.3 1473.0L1898.8 1472.3L1899.3 1472.6L1899.8 1472.5L1900.3 1472.4L1900.8 1472.0L1901.3 1472.6L1901.8 1471.9L1902.3 1472.6L1902.8 1472.3L1903.3 1472.4L1903.8 1472.1L1904.3 1472.0L1904.8 1471.9L1905.3 1472.3L1905.8 1472.2L1906.3 1472.4L1906.7 1472.1L1907.2 1472.5L1907.7 1472.3L1908.2 1472.2L1908.7 1472.1L1909.2 1472.2L1909.7 1472.4L1910.2 1471.9L1910.7 1471.7L1911.2 1472.3L1911.6 1472.3L1912.1 1472.1L1912.6 1472.2L1913.1 1471.6L1913.6 1471.7L1914.1 1472.0L1914.6 1472.0L1915.0 1471.6L1915.5 1472.2L1916.0 1471.3L1916.5 1472.4L1917.0 1471.6L1917.5 1471.7L1917.9 1471.5L1918.4 1471.4L1918.9 1471.8L1919.4 1471.2L1920.0 1471.8L1920.5 1471.9L1921.0 1471.7L1921.6 1471.8L1922.1 1471.3L1922.6 1471.1L1923.2 1471.3L1923.7 1472.2L1924.3 1471.9L1924.8 1471.1L1925.4 1472.4L1925.9 1472.0L1926.5 1472.1L1927.0 1472.1L1927.6 1472.2L1928.2 1471.0L1928.7 1471.7L1929.3 1471.3L1929.9 1472.3L1930.4 1471.9L1931.0 1471.6L1931.6 1471.5L1932.2 1470.9L1932.7 1471.6L1933.3 1471.2L1933.9 1472.0L1934.5 1471.8L1935.0 1471.5L1935.6 1471.3L1936.2 1471.9L1936.8 1471.2L1937.4 1471.8L1938.0 1471.5L1938.5 1471.3L1939.1 1471.5L1939.7 1472.0L1940.3 1470.7L1940.9 1471.6L1941.5 1471.6L1942.0 1471.2L1942.6 1471.8L1943.2 1471.5L1943.8 1471.5L1944.4 1470.9L1945.0 1471.4L1945.6 1470.7L1946.1 1471.4L1946.7 1471.8L1947.3 1470.8L1947.9 1471.7L1948.5 1470.7L1949.0 1471.1L1949.6 1471.4L1950.2 1470.5L1950.8 1471.2L1951.3 1470.8L1951.9 1470.8L1952.5 1471.3L1953.1 1471.0L1953.6 1471.1L1954.2 1471.0L1954.8 1471.1L1955.3 1471.5L1955.9 1471.0L1956.5 1470.8L1957.0 1470.9L1957.6 1471.1L1958.1 1471.0L1958.7 1470.2L1959.2 1470.8L1959.8 1471.0L1960.3 1471.5L1960.9 1470.6L1961.4 1470.7L1961.9 1470.3L1962.5 1470.7L1963.0 1470.1L1963.5 1470.4L1964.1 1470.7L1964.6 1470.1L1965.1 1470.6L1965.6 1470.4L1966.1 1471.1L1966.7 1471.2L1967.2 1471.3L1967.7 1470.7L1968.2 1470.8L1968.7 1471.3L1969.2 1470.3L1969.6 1471.2L1970.1 1470.2L1970.6 1470.9L1971.1 1469.9L1971.6 1470.4L1972.0 1470.4L1972.5 1470.4L1972.9 1469.8L1973.4 1470.5L1973.9 1470.3L1974.3 1471.0L1974.7 1470.6L1975.2 1469.7L1975.6 1470.4L1976.0 1470.8L1976.5 1470.3L1976.9 1470.1L1977.3 1469.8L1977.7 1470.2L1978.1 1470.0L1978.5 1470.2L1978.9 1470.2L1979.3 1470.8L1979.7 1469.9L1980.0 1470.4L1980.4 1469.9L1980.8 1470.4L1981.1 1470.6L1981.5 1470.0L1981.8 1469.8L1982.2 1470.2L1982.5 1470.2L1982.8 1470.0L1983.2 1470.3L1983.5 1470.2L1983.8 1470.4L1984.1 1469.6L1984.4 1470.4L1984.7 1470.6L1984.9 1469.8L1985.2 1470.1L1985.5 1470.1L1985.7 1470.1L1986.0 1470.1L1990.4 1469.4L1991.1 1462.8" stroke="#0000ff" stroke-width="3.6" fill="none" stroke-linejoin="round"/>
<path d="M527.64 1517.50V1498.00M527.64 111.00V130.50M943.43 1517.50V1498.00M943.43 111.00V130.50M1359.23 1517.50V1498.00M1359.23 111.00V130.50M1775.02 1517.50V1498.00M1775.02 111.00V130.50M195.00 1517.50H214.50M2024.50 1517.50H2005.00M195.00 1283.08H214.50M2024.50 1283.08H2005.00M195.00 1048.67H214.50M2024.50 1048.67H2005.00M195.00 814.25H214.50M2024.50 814.25H2005.00M195.00 579.83H214.50M2024.50 579.83H2005.00M195.00 345.42H214.50M2024.50 345.42H2005.00M195.00 111.00H214.50M2024.50 111.00H2005.00" stroke="#262626" stroke-width="3.5" fill="none"/>
<g fill="#262626" shape-rendering="crispEdges"><rect x="193" y="109" width="4" height="1410"/><rect x="193" y="109" width="1833" height="4"/><rect x="2023" y="109" width="3" height="1410"/><rect x="193" y="1516" width="1833" height="3"/></g>
<text transform="translate(526.64 1604.50) scale(1 1.070)" font-size="61.4" fill="#262626" text-anchor="middle">1000</text>
<text transform="translate(942.43 1604.50) scale(1 1.070)" font-size="61.4" fill="#262626" text-anchor="middle">1500</text>
<text transform="translate(1358.23 1604.50) scale(1 1.070)" font-size="61.4" fill="#262626" text-anchor="middle">2000</text>
<text transform="translate(1774.02 1604.50) scale(1 1.070)" font-size="61.4" fill="#262626" text-anchor="middle">2500</text>
<text transform="translate(172.50 1542.50) scale(1 1.070)" font-size="61.4" fill="#262626" text-anchor="end">0</text>
<text transform="translate(172.50 1308.08) scale(1 1.070)" font-size="61.4" fill="#262626" text-anchor="end">1</text>
<text transform="translate(172.50 1073.67) scale(1 1.070)" font-size="61.4" fill="#262626" text-anchor="end">2</text>
<text transform="translate(172.50 839.25) scale(1 1.070)" font-size="61.4" fill="#262626" text-anchor="end">3</text>
<text transform="translate(172.50 604.83) scale(1 1.070)" font-size="61.4" fill="#262626" text-anchor="end">4</text>
<text transform="translate(172.50 370.42) scale(1 1.070)" font-size="61.4" fill="#262626" text-anchor="end">5</text>
<text transform="translate(172.50 136.00) scale(1 1.070)" font-size="61.4" fill="#262626" text-anchor="end">6</text>
<text x="198.3" y="102.3" font-size="69.1" fill="#262626">×</text>
<text transform="translate(244.50 94.90) scale(1 1.070)" font-size="61.4" fill="#262626">10</text>
<text transform="translate(313.90 65.10) scale(1 1.050)" font-size="51.0" fill="#262626">-4</text>
<text transform="translate(802.00 1713.80) scale(1 1.000)" font-size="67.6" fill="#262626">wave number (cm<tspan font-size="54.1" dy="-30.80">-1</tspan><tspan dx="4.9" dy="30.80">)</tspan></text>
<text transform="translate(106 1524) rotate(-90) scale(1 1.020)" font-size="67.6" fill="#262626">Radiometric Noise, NEDN (W m<tspan font-size="54.1" dy="-29.61">-2</tspan><tspan dx="3.4" dy="29.61"> sr</tspan><tspan font-size="54.1" dy="-29.61">-1</tspan><tspan dx="4.6" dy="29.61"> (cm</tspan><tspan font-size="54.1" dy="-29.61">-1</tspan><tspan dx="4.5" dy="29.61">)</tspan><tspan font-size="54.1" dy="-29.61">-1</tspan><tspan dx="3.5" dy="29.61">)</tspan></text>
<rect x="552" y="207" width="1199" height="161" fill="#fff" stroke="#262626" stroke-width="3"/>
<path d="M567 250.5H721.7" stroke="#000" stroke-width="3"/>
<path d="M567 324.5H721.7" stroke="#0000ff" stroke-width="3.2"/>
<text transform="translate(732.40 271.80) scale(1 1.025)" font-size="55.3" fill="#000">Radiometric noise used for normalization</text>
<text transform="translate(732.40 346.00) scale(1 1.025)" font-size="55.3" fill="#000">IASI-C radiometric noise, CNES release</text>
</svg></body></html>
